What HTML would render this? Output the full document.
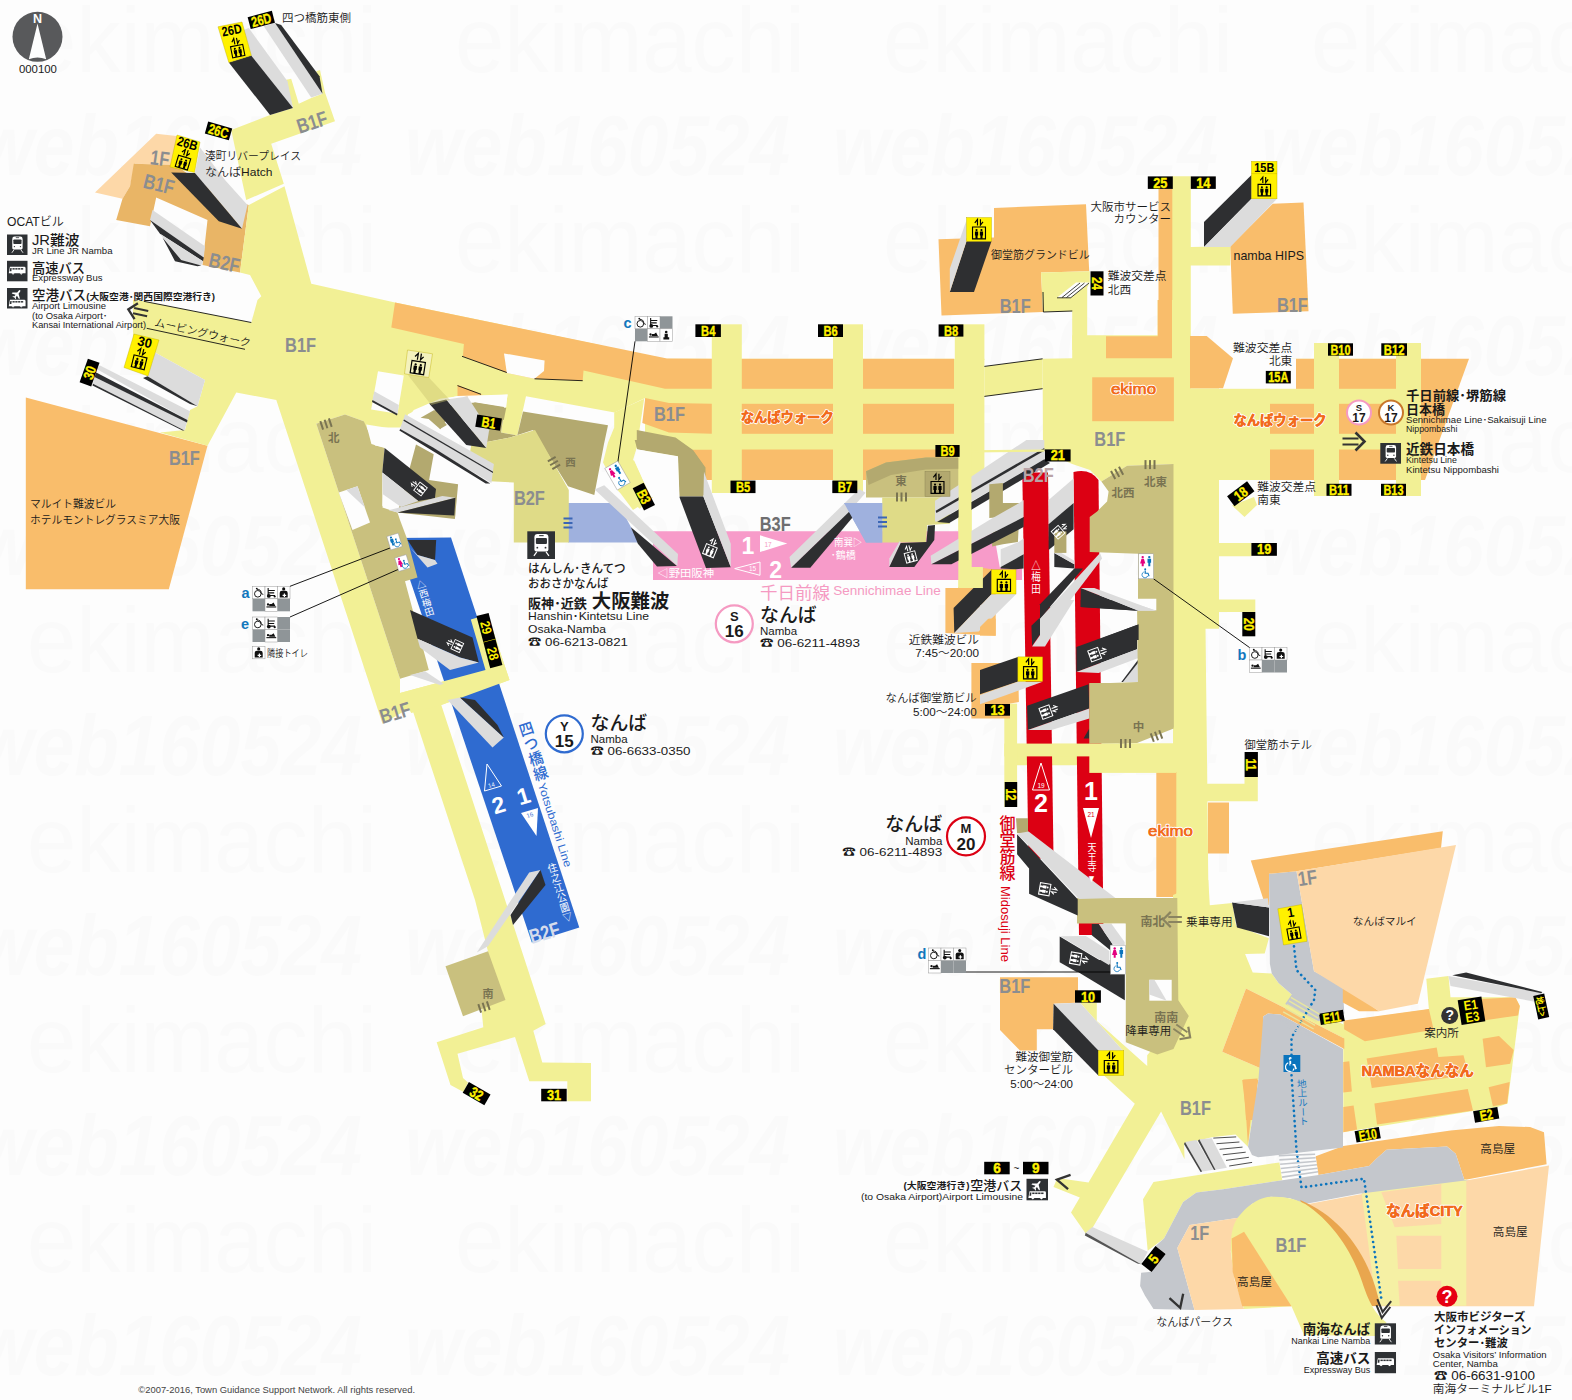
<!DOCTYPE html>
<html lang="ja"><head><meta charset="utf-8"><title>なんば駅 構内図</title>
<style>
html,body{margin:0;padding:0;background:#fdfdfd;}
body{width:1572px;height:1400px;overflow:hidden;font-family:"Liberation Sans","Noto Sans CJK JP",sans-serif;}
svg{display:block}
text{font-family:"Liberation Sans","Noto Sans CJK JP",sans-serif;}
</style></head><body>
<svg width="1572" height="1400" viewBox="0 0 1572 1400">
<rect width="1572" height="1400" fill="#fdfdfd"/>
<text x="1689" y="1375" font-size="86" fill="#fafafa" font-weight="700" font-style="italic" textLength="385" lengthAdjust="spacingAndGlyphs">web160524</text>
<text x="1261" y="1375" font-size="86" fill="#fafafa" font-weight="700" font-style="italic" textLength="385" lengthAdjust="spacingAndGlyphs">web160524</text>
<text x="833" y="1375" font-size="86" fill="#fafafa" font-weight="700" font-style="italic" textLength="385" lengthAdjust="spacingAndGlyphs">web160524</text>
<text x="405" y="1375" font-size="86" fill="#fafafa" font-weight="700" font-style="italic" textLength="385" lengthAdjust="spacingAndGlyphs">web160524</text>
<text x="-23" y="1375" font-size="86" fill="#fafafa" font-weight="700" font-style="italic" textLength="385" lengthAdjust="spacingAndGlyphs">web160524</text>
<text x="1739" y="1272" font-size="92" fill="#fafafa" font-weight="300"  textLength="350" lengthAdjust="spacingAndGlyphs">ekimachi</text>
<text x="1311" y="1272" font-size="92" fill="#fafafa" font-weight="300"  textLength="350" lengthAdjust="spacingAndGlyphs">ekimachi</text>
<text x="883" y="1272" font-size="92" fill="#fafafa" font-weight="300"  textLength="350" lengthAdjust="spacingAndGlyphs">ekimachi</text>
<text x="455" y="1272" font-size="92" fill="#fafafa" font-weight="300"  textLength="350" lengthAdjust="spacingAndGlyphs">ekimachi</text>
<text x="27" y="1272" font-size="92" fill="#fafafa" font-weight="300"  textLength="350" lengthAdjust="spacingAndGlyphs">ekimachi</text>
<text x="1689" y="1175" font-size="86" fill="#fafafa" font-weight="700" font-style="italic" textLength="385" lengthAdjust="spacingAndGlyphs">web160524</text>
<text x="1261" y="1175" font-size="86" fill="#fafafa" font-weight="700" font-style="italic" textLength="385" lengthAdjust="spacingAndGlyphs">web160524</text>
<text x="833" y="1175" font-size="86" fill="#fafafa" font-weight="700" font-style="italic" textLength="385" lengthAdjust="spacingAndGlyphs">web160524</text>
<text x="405" y="1175" font-size="86" fill="#fafafa" font-weight="700" font-style="italic" textLength="385" lengthAdjust="spacingAndGlyphs">web160524</text>
<text x="-23" y="1175" font-size="86" fill="#fafafa" font-weight="700" font-style="italic" textLength="385" lengthAdjust="spacingAndGlyphs">web160524</text>
<text x="1739" y="1072" font-size="92" fill="#fafafa" font-weight="300"  textLength="350" lengthAdjust="spacingAndGlyphs">ekimachi</text>
<text x="1311" y="1072" font-size="92" fill="#fafafa" font-weight="300"  textLength="350" lengthAdjust="spacingAndGlyphs">ekimachi</text>
<text x="883" y="1072" font-size="92" fill="#fafafa" font-weight="300"  textLength="350" lengthAdjust="spacingAndGlyphs">ekimachi</text>
<text x="455" y="1072" font-size="92" fill="#fafafa" font-weight="300"  textLength="350" lengthAdjust="spacingAndGlyphs">ekimachi</text>
<text x="27" y="1072" font-size="92" fill="#fafafa" font-weight="300"  textLength="350" lengthAdjust="spacingAndGlyphs">ekimachi</text>
<text x="1689" y="975" font-size="86" fill="#fafafa" font-weight="700" font-style="italic" textLength="385" lengthAdjust="spacingAndGlyphs">web160524</text>
<text x="1261" y="975" font-size="86" fill="#fafafa" font-weight="700" font-style="italic" textLength="385" lengthAdjust="spacingAndGlyphs">web160524</text>
<text x="833" y="975" font-size="86" fill="#fafafa" font-weight="700" font-style="italic" textLength="385" lengthAdjust="spacingAndGlyphs">web160524</text>
<text x="405" y="975" font-size="86" fill="#fafafa" font-weight="700" font-style="italic" textLength="385" lengthAdjust="spacingAndGlyphs">web160524</text>
<text x="-23" y="975" font-size="86" fill="#fafafa" font-weight="700" font-style="italic" textLength="385" lengthAdjust="spacingAndGlyphs">web160524</text>
<text x="1739" y="872" font-size="92" fill="#fafafa" font-weight="300"  textLength="350" lengthAdjust="spacingAndGlyphs">ekimachi</text>
<text x="1311" y="872" font-size="92" fill="#fafafa" font-weight="300"  textLength="350" lengthAdjust="spacingAndGlyphs">ekimachi</text>
<text x="883" y="872" font-size="92" fill="#fafafa" font-weight="300"  textLength="350" lengthAdjust="spacingAndGlyphs">ekimachi</text>
<text x="455" y="872" font-size="92" fill="#fafafa" font-weight="300"  textLength="350" lengthAdjust="spacingAndGlyphs">ekimachi</text>
<text x="27" y="872" font-size="92" fill="#fafafa" font-weight="300"  textLength="350" lengthAdjust="spacingAndGlyphs">ekimachi</text>
<text x="1689" y="775" font-size="86" fill="#fafafa" font-weight="700" font-style="italic" textLength="385" lengthAdjust="spacingAndGlyphs">web160524</text>
<text x="1261" y="775" font-size="86" fill="#fafafa" font-weight="700" font-style="italic" textLength="385" lengthAdjust="spacingAndGlyphs">web160524</text>
<text x="833" y="775" font-size="86" fill="#fafafa" font-weight="700" font-style="italic" textLength="385" lengthAdjust="spacingAndGlyphs">web160524</text>
<text x="405" y="775" font-size="86" fill="#fafafa" font-weight="700" font-style="italic" textLength="385" lengthAdjust="spacingAndGlyphs">web160524</text>
<text x="-23" y="775" font-size="86" fill="#fafafa" font-weight="700" font-style="italic" textLength="385" lengthAdjust="spacingAndGlyphs">web160524</text>
<text x="1739" y="672" font-size="92" fill="#fafafa" font-weight="300"  textLength="350" lengthAdjust="spacingAndGlyphs">ekimachi</text>
<text x="1311" y="672" font-size="92" fill="#fafafa" font-weight="300"  textLength="350" lengthAdjust="spacingAndGlyphs">ekimachi</text>
<text x="883" y="672" font-size="92" fill="#fafafa" font-weight="300"  textLength="350" lengthAdjust="spacingAndGlyphs">ekimachi</text>
<text x="455" y="672" font-size="92" fill="#fafafa" font-weight="300"  textLength="350" lengthAdjust="spacingAndGlyphs">ekimachi</text>
<text x="27" y="672" font-size="92" fill="#fafafa" font-weight="300"  textLength="350" lengthAdjust="spacingAndGlyphs">ekimachi</text>
<text x="1689" y="575" font-size="86" fill="#fafafa" font-weight="700" font-style="italic" textLength="385" lengthAdjust="spacingAndGlyphs">web160524</text>
<text x="1261" y="575" font-size="86" fill="#fafafa" font-weight="700" font-style="italic" textLength="385" lengthAdjust="spacingAndGlyphs">web160524</text>
<text x="833" y="575" font-size="86" fill="#fafafa" font-weight="700" font-style="italic" textLength="385" lengthAdjust="spacingAndGlyphs">web160524</text>
<text x="405" y="575" font-size="86" fill="#fafafa" font-weight="700" font-style="italic" textLength="385" lengthAdjust="spacingAndGlyphs">web160524</text>
<text x="-23" y="575" font-size="86" fill="#fafafa" font-weight="700" font-style="italic" textLength="385" lengthAdjust="spacingAndGlyphs">web160524</text>
<text x="1739" y="472" font-size="92" fill="#fafafa" font-weight="300"  textLength="350" lengthAdjust="spacingAndGlyphs">ekimachi</text>
<text x="1311" y="472" font-size="92" fill="#fafafa" font-weight="300"  textLength="350" lengthAdjust="spacingAndGlyphs">ekimachi</text>
<text x="883" y="472" font-size="92" fill="#fafafa" font-weight="300"  textLength="350" lengthAdjust="spacingAndGlyphs">ekimachi</text>
<text x="455" y="472" font-size="92" fill="#fafafa" font-weight="300"  textLength="350" lengthAdjust="spacingAndGlyphs">ekimachi</text>
<text x="27" y="472" font-size="92" fill="#fafafa" font-weight="300"  textLength="350" lengthAdjust="spacingAndGlyphs">ekimachi</text>
<text x="1689" y="375" font-size="86" fill="#fafafa" font-weight="700" font-style="italic" textLength="385" lengthAdjust="spacingAndGlyphs">web160524</text>
<text x="1261" y="375" font-size="86" fill="#fafafa" font-weight="700" font-style="italic" textLength="385" lengthAdjust="spacingAndGlyphs">web160524</text>
<text x="833" y="375" font-size="86" fill="#fafafa" font-weight="700" font-style="italic" textLength="385" lengthAdjust="spacingAndGlyphs">web160524</text>
<text x="405" y="375" font-size="86" fill="#fafafa" font-weight="700" font-style="italic" textLength="385" lengthAdjust="spacingAndGlyphs">web160524</text>
<text x="-23" y="375" font-size="86" fill="#fafafa" font-weight="700" font-style="italic" textLength="385" lengthAdjust="spacingAndGlyphs">web160524</text>
<text x="1739" y="272" font-size="92" fill="#fafafa" font-weight="300"  textLength="350" lengthAdjust="spacingAndGlyphs">ekimachi</text>
<text x="1311" y="272" font-size="92" fill="#fafafa" font-weight="300"  textLength="350" lengthAdjust="spacingAndGlyphs">ekimachi</text>
<text x="883" y="272" font-size="92" fill="#fafafa" font-weight="300"  textLength="350" lengthAdjust="spacingAndGlyphs">ekimachi</text>
<text x="455" y="272" font-size="92" fill="#fafafa" font-weight="300"  textLength="350" lengthAdjust="spacingAndGlyphs">ekimachi</text>
<text x="27" y="272" font-size="92" fill="#fafafa" font-weight="300"  textLength="350" lengthAdjust="spacingAndGlyphs">ekimachi</text>
<text x="1689" y="175" font-size="86" fill="#fafafa" font-weight="700" font-style="italic" textLength="385" lengthAdjust="spacingAndGlyphs">web160524</text>
<text x="1261" y="175" font-size="86" fill="#fafafa" font-weight="700" font-style="italic" textLength="385" lengthAdjust="spacingAndGlyphs">web160524</text>
<text x="833" y="175" font-size="86" fill="#fafafa" font-weight="700" font-style="italic" textLength="385" lengthAdjust="spacingAndGlyphs">web160524</text>
<text x="405" y="175" font-size="86" fill="#fafafa" font-weight="700" font-style="italic" textLength="385" lengthAdjust="spacingAndGlyphs">web160524</text>
<text x="-23" y="175" font-size="86" fill="#fafafa" font-weight="700" font-style="italic" textLength="385" lengthAdjust="spacingAndGlyphs">web160524</text>
<text x="1739" y="72" font-size="92" fill="#fafafa" font-weight="300"  textLength="350" lengthAdjust="spacingAndGlyphs">ekimachi</text>
<text x="1311" y="72" font-size="92" fill="#fafafa" font-weight="300"  textLength="350" lengthAdjust="spacingAndGlyphs">ekimachi</text>
<text x="883" y="72" font-size="92" fill="#fafafa" font-weight="300"  textLength="350" lengthAdjust="spacingAndGlyphs">ekimachi</text>
<text x="455" y="72" font-size="92" fill="#fafafa" font-weight="300"  textLength="350" lengthAdjust="spacingAndGlyphs">ekimachi</text>
<text x="27" y="72" font-size="92" fill="#fafafa" font-weight="300"  textLength="350" lengthAdjust="spacingAndGlyphs">ekimachi</text>
<polygon fill="#fdd8a8" points="95.0,192.5 156.2,133.8 178.8,136.2 175.0,165.0 135.0,163.8 130.0,186.2 122.5,198.8" />
<polygon fill="#e9b566" points="133.8,163.8 175.0,165.0 222.5,197.5 248.8,205.0 240.0,272.5 202.5,265.0 207.5,220.0 156.2,197.5 150.0,226.2 116.2,220.0 122.5,198.8 130.0,186.2" />
<polygon fill="#f9bd6b" points="25.8,397.5 207.5,445.8 168.8,589.2 25.8,589.2" />
<polygon fill="#f9bd6b" points="938.5,239.2 994.0,237.5 994.0,208.0 1086.0,204.2 1089.2,271.2 1041.0,272.5 1043.0,312.0 941.5,315.5" />
<polygon fill="#f9bd6b" points="1230.2,246.2 1272.8,203.8 1303.5,202.5 1308.5,311.2 1232.8,313.8" />
<polygon fill="#f2f095" points="231.2,130.0 270.0,115.0 293.0,108.0 285.0,80.0 291.2,78.8 298.8,103.8 311.2,98.0 322.5,93.8 316.2,71.2 320.0,70.0 325.0,92.5 335.0,121.2 271.2,143.8 283.8,183.8 246.2,200.0" />
<polygon fill="#f2f095" points="248.8,205 284.5,186.3 311.3,283.8 395,302.5 600,345 670,372 711.8,388.8 711.8,403.8 669,403 645.2,397.9 614.6,412.6 526,396.3 517.3,435.5 501,432.6 507.7,394.5 471.5,397.3 457.5,396.3 440,398.8 413.8,410 400,427.5 365,427.5 363.8,421.3 345,414.5 316.3,423.8 400,678.8 400,693 485.5,670 470.8,619.5 487.5,614.5 509.5,680 441.3,705 545.7,1024 533.3,1030.7 542.3,1062.5 591,1063 591,1101.3 567.3,1101.3 567.3,1081.3 529.3,1081.3 515,1037 457.5,1053.8 463,1078 468,1082.5 463.5,1092 450.5,1085 436.7,1042.3 483.3,1027.3 481.8,1012.5 488,951.5 475,900 411.5,707 382.5,723.8 276.3,400 236.3,392.5 207.5,445.8 160,432.5 185,430 190,410 197.5,406.3 205,380 155,352.5 133,350 133,300 143.8,301.3 251.3,322.5 257.5,300 261.3,296.3 250,275 240,272.5" />
<polygon fill="#f2f095" points="614.2,412.5 644.2,398.8 636.8,447.5 633.0,460.0 653.0,497.5 633.0,510.0 618.0,490.0 603.0,462.5 608.0,442.5 614.2,427.5" />
<rect fill="#f2f095" x="645.0" y="358.8" width="339.4" height="121.2" />
<rect fill="#f2f095" x="711.8" y="324.3" width="30.0" height="35.7" />
<rect fill="#f2f095" x="833.0" y="324.3" width="30.0" height="35.7" />
<rect fill="#f2f095" x="954.8" y="324.3" width="29.6" height="35.7" />
<rect fill="#f2f095" x="711.8" y="479.0" width="30.0" height="14.0" />
<rect fill="#f2f095" x="833.0" y="479.0" width="30.0" height="14.0" />
<rect fill="#f2f095" x="958.5" y="455.0" width="13.0" height="145.0" />
<polygon fill="#f2f095" points="984.4,366.4 1042.6,358.8 1042.6,388.7 984.4,396.4" />
<polygon fill="#f2f095" points="1041.0,272.5 1089.8,271.2 1089.8,282.5 1087.2,287.5 1087.2,350.0 1072.2,350.0 1072.2,311.2 1043.0,312.0" />
<polygon fill="#f2f095" points="1042.6,358.8 1072.2,358.2 1072.2,335.3 1157.7,335.3 1157.7,300 1172,300 1172,176.3 1190.8,176.3 1190.8,247 1230.3,246.3 1230.3,265.5 1190.8,265.5 1190.8,388.3 1219,388.3 1219,543 1251.5,543 1251.5,556.3 1219,556.3 1219,599.5 1255.3,599.5 1255.3,612 1219,612 1219,628.8 1205.5,628.8 1207.3,783.7 1244.5,783.7 1244.5,777 1257.8,777 1257.8,801.3 1207.5,801.3 1208.5,905 1173,905 1173,765.3 1017,765.3 1017,743.7 1173,743.7 1173,464 1127.1,465.7 1101.4,481.4 1090,470 1072.2,464.1 1043,450.8" />
<polygon fill="#f9bd6b" points="395,302.5 667,358.5 711.8,358.8 711.8,388.8 665,388.8 583.5,370.6 582.7,380.7 534.5,378.8 506.8,373 462.9,356.3 463.9,343.9 391.3,327.5" />
<polygon fill="#fdfdfd" points="504,353.4 544.6,360.6 544,371.1 534.5,378.8 506.8,373" />
<polygon fill="#f9bd6b" points="457.5,385.0 482.5,394.5 472.5,397.0 457.5,397.0" />
<rect fill="#f9bd6b" x="741.8" y="358.8" width="91.2" height="30.0" />
<rect fill="#f9bd6b" x="741.8" y="403.8" width="91.2" height="30.0" />
<rect fill="#f9bd6b" x="741.8" y="449.5" width="91.2" height="30.5" />
<rect fill="#f9bd6b" x="863.0" y="358.8" width="91.0" height="30.0" />
<rect fill="#f9bd6b" x="863.0" y="403.8" width="91.0" height="30.0" />
<rect fill="#f9bd6b" x="863.0" y="449.5" width="91.0" height="30.5" />
<polygon fill="#f9bd6b" points="645.2,397.9 669,403 711.8,403.8 711.8,433.8 669,432.6 642.3,423" />
<polygon fill="#f9bd6b" points="692,449.8 711.8,449.8 711.8,480 705,480" />
<rect fill="#f9bd6b" x="1092.2" y="377.3" width="81.7" height="43.9" />
<polygon fill="#f9bd6b" points="1157.7,300 1172,300 1172,358.2 1106,358.2 1106,336.3 1157.7,336.3" />
<rect fill="#f9bd6b" x="1158.5" y="188.8" width="13.8" height="111.2" />
<polygon fill="#f9bd6b" points="1190,335.9 1206.7,335.9 1233,358.3 1223,388.3 1190,388.3" />
<rect fill="#f2f095" x="1265.0" y="358.8" width="156.0" height="121.2" />
<rect fill="#f2f095" x="1314.0" y="343.0" width="25.0" height="153.0" />
<rect fill="#f2f095" x="1396.0" y="343.0" width="25.0" height="153.0" />
<rect fill="#f9bd6b" x="1296.0" y="358.8" width="18.0" height="30.0" />
<rect fill="#f9bd6b" x="1339.0" y="358.8" width="57.0" height="30.0" />
<rect fill="#f9bd6b" x="1268.5" y="403.8" width="45.5" height="30.0" />
<rect fill="#f9bd6b" x="1268.5" y="449.5" width="45.5" height="30.5" />
<rect fill="#f9bd6b" x="1339.0" y="403.8" width="57.0" height="30.0" />
<rect fill="#f9bd6b" x="1339.0" y="449.5" width="57.0" height="30.5" />
<polygon fill="#f9bd6b" points="1421,358.8 1469,358.8 1425,480 1421,480" />
<rect fill="#fdfdfd" x="1264.0" y="358.8" width="32.0" height="30.0" />
<polygon fill="#f2f095" points="1232.0,505.5 1254.0,497.0 1257.0,505.0 1244.5,517.0" />
<rect fill="#f2f095" x="1219.0" y="388.8" width="51.0" height="91.2" />
<rect fill="#f9bd6b" x="1156.3" y="772.0" width="20.0" height="125.0" />
<rect fill="#f9bd6b" x="1208.0" y="802.5" width="21.0" height="51.0" />
<polygon fill="#f2f095" points="1173,895 1208.3,880 1209.8,905.2 1232.3,902.9 1236.1,925.8 1268.9,938.2 1264.7,953.5 1245.1,954 1252.7,972.6 1271.8,973.5 1278.5,983 1291.8,994.5 1320.5,1011.7 1344.3,1025 1344.3,1038.4 1246,988.4 1222.2,1051.8 1262.3,1068.9 1258.4,1080 1247.9,1146.8 1235.5,1134.4 1211.7,1137.3 1184,1143.9 1184.6,1159.2 1161.1,1111.5 1092.4,1227.9 1085.7,1233.6 1071,1212.5 1079.8,1197.5 1053.5,1187 1057.3,1178 1088.5,1182.5 1134.8,1103.8 1104.5,1076 1098.4,1075.5 1098.4,1050.6 1122.8,1050.6 1080.1,1002.7 1096.8,1002.7 1096.8,1021.1 1147.2,1065.9 1147.2,1055.2 1160,1040 1160,930 1173,930" />
<polygon fill="#f2f095" points="1153.5,1182.1 1279.4,1162.4 1282.3,1180.2 1223.1,1189.2 1196.4,1192.6 1183.1,1202.1 1164.0,1238.4 1147.7,1250.8 1143.0,1199.3" />
<polygon fill="#f2f095" points="1343.3,1021.4 1428.9,1009.3 1426.3,978.7 1448.5,976.1 1450.5,997.2 1515.4,997.2 1519.8,1005.9 1507.6,1103.6 1497.3,1107.1 1343.3,1132.2" />
<polygon fill="#f9bd6b" points="1344.1,1020.6 1428.9,1009.0 1433.6,1029.7 1364.9,1041.3 1344.1,1029.2" />
<polygon fill="#f9bd6b" points="1481.7,998.9 1515.4,997.2 1519.8,1005.9 1518.0,1015.4 1483.4,1020.6" />
<polygon fill="#f9bd6b" points="1366.6,1058.6 1436.7,1047.4 1438.4,1056.9 1463.5,1055.2 1468.7,1075.1 1371.8,1088.0" />
<polygon fill="#f9bd6b" points="1482.6,1038.7 1499.0,1036.1 1513.7,1050.0 1510.2,1063.8 1486.0,1067.3" />
<polygon fill="#f9bd6b" points="1374.4,1103.6 1467.8,1088.9 1473.0,1110.5 1377.0,1124.4" />
<polygon fill="#f9bd6b" points="1488.6,1087.2 1509.7,1082.0 1507.1,1103.6 1492.9,1106.2" />
<polygon fill="#f9bd6b" points="1343.3,1062.1 1349.3,1061.2 1351.9,1091.5 1343.3,1092.4" />
<polygon fill="#f9bd6b" points="1343.3,1107.1 1353.6,1105.4 1357.1,1129.6 1343.3,1132.2" />
<polygon fill="#f9bd6b" points="1315.7,1156.2 1343.3,1146.0 1450.5,1130.4 1499.0,1126.1 1530.1,1127.0 1544.0,1132.2 1546.6,1164.2 1464.4,1179.9 1455.7,1153.8 1447.1,1146.5 1386.5,1149.8 1376.1,1159.0 1369.2,1165.9 1318.5,1174.9" />
<polygon fill="#fdd8a8" points="1296.5,1206.2 1359.0,1194.5 1469.0,1180.0 1549.0,1165.5 1534.0,1306.2 1354.0,1306.2 1299.0,1225.0" />
<polygon fill="#f5f0a4" points="1361.3,1190.7 1466.3,1179.0 1466.3,1305.7 1376.3,1305.7" />
<polygon fill="#fdd8a8" points="1381.3,1192.3 1441.3,1184.0 1441.3,1224.0 1394.7,1227.3" />
<polygon fill="#fdd8a8" points="1396.3,1235.7 1441.3,1235.7 1441.3,1269.0 1398.0,1269.0" />
<polygon fill="#fdd8a8" points="1398.0,1280.7 1441.3,1280.7 1441.3,1305.7 1399.7,1305.7" />
<polygon fill="#c4c7cc" points="1469,1180 1464.4,1180 1455.7,1153.8 1447,1146.5 1386.5,1149.8 1376,1159 1369.2,1165.9 1318.5,1175 1282.3,1180.2 1223.1,1189.2 1196.4,1192.6 1183.1,1202.1 1164,1238.4 1155.4,1246 1165.9,1253.7 1151.6,1271.8 1141.1,1272.7 1140.1,1286.1 1144.9,1295.6 1153.5,1309 1194.5,1310 1177.3,1247.9 1189.7,1225 1240.3,1217.4 1251.8,1204 1270.8,1196.8 1289.9,1198.3 1305.2,1204 1359,1193.8" />
<polygon fill="#fdd8a8" points="1177.3,1247.9 1189.7,1225 1240.3,1217.4 1232.7,1234.6 1230.8,1251.8 1234.6,1280.4 1244.1,1309 1194.5,1310" />
<path fill="#e9a64e" d="M1300,1200 C1345,1218 1372,1262 1380,1306 L1360,1306 Z"/>
<path fill="#f2f095" d="M1244.1,1309 C1228,1262 1226,1228 1241.3,1213.6 C1250,1203 1262,1197 1270.8,1196.8 C1284,1196 1296,1199 1305.2,1204 C1330,1220 1350,1248 1360,1276 C1366,1292 1370,1310 1386.5,1322.5 L1376.5,1336 L1304,1335 L1291.5,1306.3 Z"/>
<polygon fill="#f9bd6b" points="1231.7,1238.4 1244.1,1231.7 1291.5,1306.3 1242.2,1306.3 1232.7,1272" />
<polygon fill="#c4c7cc" points="1269,873.8 1296.5,871.3 1314,971.3 1342.8,986.3 1344.3,1013.6 1318.5,1021.2 1285.2,1004 1291.8,994.5 1278.5,983 1271.8,973.5 1269.9,964" />
<polygon fill="#f9bd6b" points="1246,988.4 1344.3,1038.4 1344.3,1048.9 1280.4,1014.5 1268,1013.6 1263.2,1016.5 1262.3,1068.9 1222.2,1051.8" />
<polygon fill="#f9bd6b" points="1243.2,1079.4 1257.5,1078.5 1256.5,1120.1 1246.0,1120.1" />
<polygon fill="#f9bd6b" points="1242.2,1080.0 1258.4,1080.0 1251.8,1108.6 1247.9,1144.9 1245.6,1108.6" />
<polygon fill="#c4c7cc" points="1268,1013.6 1280.4,1014.5 1343,1049 1343,1147.5 1258,1157.3 1252,1155 1248,1146.8 1258.4,1080 1262.3,1030 1263.2,1016.5" />
<polygon fill="#f9bd6b" points="1250.8,860.5 1442.8,831.2 1441.0,848.0 1296.5,871.2 1269.0,873.8 1269.0,905.0 1265.2,905.0" />
<polygon fill="#f9bd6b" points="1342.8,985.0 1379.0,1011.2 1359.0,1011.2 1342.8,1002.5" />
<polygon fill="#fdd8a8" points="1296.5,871.2 1456.0,845.0 1417.8,1003.8 1379.0,1011.2 1314.0,971.2" />
<polygon fill="#f9bd6b" points="1000,977.3 1078,977.3 1078,990.5 1075,1002.7 1053.6,1003.8 1053,1029.2 1036.8,1029.2 1036.8,1050.6 1020,1050.6 1000,1030" />
<polygon fill="#2f6bd0" points="396,538 451,537.5 579.3,927.5 531.8,942.5" />
<polygon fill="#f79bc9" points="653,531.3 993.5,531.3 999.8,567.5 1022,567.5 1022,580 653,580" />
<polygon fill="#9fb1de" points="568,503 618,503 639.3,542.5 568,542.5" />
<polygon fill="#9fb1de" points="844,503 882.3,503 882.3,542.5 866,542.5" />
<polygon fill="#dc0013" points="1022.3,472.5 1048,472.5 1053.5,857 1028.5,860" />
<path fill="#dc0013" d="M1079,935 L1073.5,472 Q1090,468 1098.5,480 L1103.5,935 Z"/>
<rect fill="#f2f095" x="1004.3" y="743.6" width="171.7" height="12.8" />
<rect fill="#f2f095" x="1089.3" y="743.6" width="86.7" height="29.3" />
<rect fill="#f2f095" x="1004.3" y="703.6" width="12.8" height="103.4" />
<rect fill="#f2f095" x="958.5" y="455.0" width="13.0" height="145.0" />
<polygon fill="#c9c07e" points="316.3,423.8 345,414.5 363.8,421.3 375,445.5 385,447.5 383.8,480 382.5,507.5 397.5,512.5 400,520 407.5,540 417.5,577.5 405,581.3 428.8,670 400,678.8" />
<polygon fill="#fdfdfd" points="338.8,492.5 357.5,486.3 370,522.5 352.5,530" />
<polygon fill="#dcdcdc" points="346.3,490 357.5,486.3 365,507.5" />
<polygon fill="#c9c07e" points="445.5,966.3 488,951.3 505.5,1000 463,1016.3" />
<polygon fill="#b3a96f" points="412.5,480.0 415.0,445.0 420.0,422.5 440.0,406.2 475.0,402.5 506.2,408.0 503.8,420.0 475.0,415.0 446.2,420.0 435.0,437.5 431.2,467.5 457.5,485.0 455.0,517.5 397.5,512.5 383.8,480.0" />
<polygon fill="#b3a96f" points="474.4,403 504.9,408.2 501,432.6 517.3,435.5 523,411.6 608,425.3 604,444 594.3,495 568,486.3 533,430 510,437.5 471.3,445" />
<polygon fill="#dfdb87" points="471.3,445 510,437.5 535,430 568.8,490 568.8,542.5 513.8,542.5 513.8,482.5 465,480" />
<polygon fill="#b3a96f" points="636.8,430 675.5,437.5 693,450 705.5,467.5 705.5,495 680,496.3 678,455 636.8,447.5" />
<polygon fill="#c9c07e" points="866.0,471.2 886.0,462.5 926.0,457.5 958.5,457.5 958.5,497.5 866.0,497.5" />
<polygon fill="#b3a96f" points="866.0,471.2 886.0,462.5 926.0,457.5 958.5,457.5 958.5,468.8 926.0,469.5 891.0,475.0 868.5,485.0" />
<polygon fill="#dfdb87" points="882.2,497.5 949.8,497.5 949.8,523.8 927.2,525.0 926.0,542.5 882.2,542.5" />
<polygon fill="#c9c07e" points="1101.4,481.4 1127.1,465.7 1173.5,464 1173.5,727 1158,733.7 1123,743.7 1089.7,738.7 1089.7,683.7 1138,682 1138,658.7 1156.3,658.7 1156.3,648.7 1138,648.7 1138,610.3 1156.3,610.3 1156.3,598.7 1138,598.7 1138,553.7 1089.7,552 1089.7,517 1097.1,511.4 1107.1,501.4 1108.6,491.4" />
<polygon fill="#c9c07e" points="1077,898.1 1177.3,898.1 1178.3,1000.2 1188.8,1015.9 1173.5,1048.9 1157.3,1054.6 1125.8,1042.2 1125.8,923.4 1077,923.4" />
<polygon fill="#f2f095" points="400.0,693.0 485.5,670.0 470.8,619.5 487.5,614.5 509.5,680.0 441.2,705.0 411.2,713.0" />
<polygon fill="#dcdcdc" points="243.8,30.0 248.8,28.0 287.5,81.2 293.0,108.0 251.2,55.5" />
<polygon fill="#2e2f31" points="228.8,62.5 251.2,55.5 293.0,108.0 270.0,115.0" />
<polygon fill="#dcdcdc" points="263.8,26.2 275.0,23.0 322.5,93.8 311.2,97.5" />
<polygon fill="#2e2f31" points="275.0,23.0 281.2,25.0 319.5,76.2 322.5,93.8" />
<polygon fill="#dcdcdc" points="200.0,147.5 225.0,180.0 247.5,205.0 242.0,228.8 195.0,173.0" />
<polygon fill="#2e2f31" points="171.2,172.5 195.0,173.0 242.0,228.8 218.8,221.2" />
<polygon fill="#dcdcdc" points="152.5,210.0 205.0,246.2 203.8,257.5 150.0,220.0" />
<polygon fill="#2e2f31" points="150.0,220.0 203.8,257.5 203.0,261.2 160.0,233.8" />
<polygon fill="#dcdcdc" points="160.0,233.8 203.0,261.2 201.2,265.5 181.2,260.0" />
<polygon fill="#2e2f31" points="162.5,237.5 181.2,260.0 201.2,265.5 197.5,266.2 175.0,261.2" />
<polygon fill="#dcdcdc" points="96.2,368.8 100.0,365.5 190.0,411.2 187.5,420.0" />
<polygon fill="#dcdcdc" points="93.0,383.8 94.5,377.0 187.0,421.8 184.5,430.5" />
<polygon fill="#2e2f31" points="94.5,377.0 96.2,372.5 187.5,420.0 187.0,422.5" />
<polygon fill="#2e2f31" points="93.0,383.8 184.5,430.5 182.5,430.5 92.5,385.5" />
<polygon fill="#dcdcdc" points="155,352.5 205,380 197.5,406.3 147.5,376.3" />
<polygon fill="#2e2f31" points="147.5,376.3 197.5,406.3 190,404 143,378" />
<polygon fill="#fdfdfd" points="378.0,371.2 403.8,375.5 397.5,413.8 371.2,409.5" />
<polygon fill="#dcdcdc" points="374.2,391.2 398.8,405.0 397.5,413.8 372.5,400.0" />
<polygon fill="#2e2f31" points="372.5,400.0 397.5,413.8 397.0,415.5 372.0,402.0" />
<polygon fill="#fdfdfd" points="366.3,424.6 402.3,430.3 408.0,414.3 428.6,404.0 457.1,396.0 507.4,394.6 506.3,406.9 474.3,402.3 467.4,396.6 446.9,399.4 429.1,403.4 420.6,417.7 434.3,409.7 440.0,429.1 491.4,482.9 463.4,481.7 458.3,484.0 454.9,518.9 397.7,512.6 382.3,505.7 382.3,472.6 384.6,448.0 371.4,444.0" />
<polygon fill="#b3a96f" points="420.6,417.7 434.3,409.9 446.9,425.1 440.0,429.1 428.6,418.9" />
<polygon fill="#b3a96f" points="416.0,444.6 433.7,454.3 429.1,480.0 458.1,484.2 454.9,518.9 397.7,512.6 405.7,482.9" />
<polygon fill="#b3a96f" points="474.3,402.3 504.0,406.9 502.9,418.3 477.7,414.3" />
<polygon fill="#dcdcdc" points="405.1,414.3 493.9,464.0 491.4,482.9 400.0,429.1" />
<polygon fill="#2e2f31" points="404.0,419.4 493.1,471.7 492.9,473.0 403.4,420.8" />
<polygon fill="#2e2f31" points="400.2,428.9 433.1,447.4 490.3,483.4 485.7,483.4 399.4,430.5" />
<polygon fill="#2e2f31" points="429.1,403.4 446.3,399.4 486.3,448.0 466.3,445.1" />
<polygon fill="#dcdcdc" points="446.3,399.4 467.4,396.6 489.1,430.3 486.3,448.0" />
<polygon fill="#2e2f31" points="384.6,448.0 436.0,489.1 434.9,498.3 418.3,501.1 382.3,472.6" />
<polygon fill="#dcdcdc" points="382.3,472.6 418.3,501.1 401.1,506.9 382.9,494.3" />
<polygon fill="#dcdcdc" points="388.6,510.3 442.3,496.0 455.4,497.7 397.7,512.6" />
<polygon fill="#2e2f31" points="397.7,512.6 455.4,497.7 454.3,515.4 405.7,513.1" />
<polygon fill="#2e2f31" points="407.5,540.0 436.2,540.0 435.0,560.0 417.5,555.0" />
<polygon fill="#dcdcdc" points="417.5,555.0 435.0,560.0 437.5,563.8 427.5,567.5 410.0,547.5" />
<polygon fill="#2e2f31" points="410.0,610.0 472.5,637.5 478.8,662.5 460.0,657.5 417.5,638.8" />
<polygon fill="#dcdcdc" points="417.5,638.8 460.0,657.5 478.8,662.5 450.0,670.0 420.0,647.5" />
<polygon fill="#dcdcdc" points="410.0,675.0 425.0,671.2 443.8,683.8 440.0,685.0" />
<polygon fill="#dcdcdc" points="447.5,700.0 460.0,697.5 503.8,737.5 492.5,747.5" />
<polygon fill="#2e2f31" points="460.0,697.5 475.0,700.0 497.5,725.0 503.8,737.5" />
<polygon fill="#dcdcdc" points="476.8,952.5 488.0,946.2 540.5,870.0 529.2,872.5" />
<polygon fill="#2e2f31" points="540.5,870.0 545.5,885.0 513.0,925.0 510.5,915.0" />
<polygon fill="#dcdcdc" points="1026.4,440.0 1044.3,440.0 1044.3,459.3 937.1,521.4 935.0,521.4 935.0,500.7" />
<polygon fill="#2e2f31" points="1044.3,447.9 1044.3,450.7 936.4,513.1 935.7,510.7" />
<polygon fill="#2e2f31" points="1044.3,459.3 1050.0,462.9 949.3,522.9 937.1,522.1" />
<polygon fill="#b3a96f" points="989.3,484.3 1002.9,482.9 1002.9,502.9 1019.3,502.9 1019.3,515.7 989.3,517.9" />
<polygon fill="#b3a96f" points="992.1,531.4 1018.6,528.6 1017.9,542.1 1002.9,544.3 992.1,546.4" />
<polygon fill="#dcdcdc" points="1019.3,502.9 1023.6,500.0 1023.6,517.1 931.4,564.3 930.7,555.7 989.3,520.0" />
<polygon fill="#2e2f31" points="1023.6,517.1 1023.6,527.1 951.4,564.3 931.4,564.3" />
<polygon fill="#dcdcdc" points="1018.6,542.1 1023.6,538.6 1023.6,554.3 1000.7,567.1 1000.7,549.3" />
<polygon fill="#2e2f31" points="1023.6,554.3 1023.6,568.6 1015.7,569.3 1000.7,568.6 1000.7,567.1" />
<polygon fill="#dcdcdc" points="889.3,558.6 900.0,540.7 900.7,542.9 889.3,567.1" />
<polygon fill="#2e2f31" points="889.3,567.1 900.7,542.9 926.4,542.1 927.9,525.7 935.0,525.0 934.3,540.0 914.3,567.1" />
<polygon fill="#f9bd6b" points="945.4,587.9 958.6,587.9 958.6,587.1 982.9,587.1 982.9,567.9 992.1,569.3 995.7,593.6 995.7,635.7 945.4,632.9" />
<polygon fill="#2e2f31" points="953.6,607.9 991.4,570.0 991.4,594.3 954.3,632.9" />
<polygon fill="#dcdcdc" points="991.4,594.3 1016.0,594.3 978.6,631.4 954.3,632.9" />
<polygon fill="#f2f095" points="958.6,440.0 971.4,440.0 971.4,567.1 982.9,567.1 982.9,587.9 958.6,587.9" />
<polygon fill="#f9bd6b" points="980.0,618.6 995.7,618.6 995.7,635.7 980.0,635.7" />
<polygon fill="#f9bd6b" points="980.0,662.9 1017.9,662.9 1018.9,702.1 1010.0,703.6 1010.0,718.6 971.4,718.6 971.4,662.9" />
<polygon fill="#dcdcdc" points="980.0,605.7 988.6,600.0 1007.1,600.0 980.0,627.1" />
<polygon fill="#2e2f31" points="980.0,670.0 1017.9,657.1 1017.9,681.4 980.0,694.3" />
<polygon fill="#dcdcdc" points="980.0,695.0 1017.9,681.7 1042.6,681.7 1006.4,695.0 980.0,704.3" />
<polygon fill="#2e2f31" points="1031.4,625.7 1057.9,600.0 1064.3,600.0 1032.1,645.7" />
<polygon fill="#dcdcdc" points="1032.1,646.4 1064.3,600.0 1074.3,600.0 1045.0,646.4" />
<polygon fill="#2e2f31" points="1076.4,647.1 1137.1,625.0 1137.1,649.3 1076.4,672.1" />
<polygon fill="#dcdcdc" points="1076.4,672.1 1137.1,649.3 1157.1,650.7 1157.1,657.1 1137.1,658.6 1098.6,672.9" />
<polygon fill="#2e2f31" points="1027.1,705.7 1088.6,684.3 1089.3,708.6 1027.9,730.0" />
<polygon fill="#dcdcdc" points="1027.9,730.0 1089.3,708.6 1089.3,718.6 1051.4,730.0" />
<polygon fill="#2e2f31" points="1080.7,600.0 1112.9,600.0 1137.1,610.7 1080.7,607.1" />
<polygon fill="#dcdcdc" points="1112.9,600.0 1122.9,600.0 1157.1,610.7 1137.1,610.7" />
<polygon fill="#dcdcdc" points="1137.9,661.4 1137.9,682.1 1121.4,682.1" />
<polygon fill="#2e2f31" points="1121.4,682.1 1137.9,660.0 1137.9,662.9 1122.9,682.1" />
<polygon fill="#2e2f31" points="1083.6,738.6 1089.3,728.6 1089.3,738.6" />
<polygon fill="#c9c07e" points="1137.1,610.7 1157.1,610.7 1157.1,600.0 1173.7,600.0 1173.7,728.6 1137.1,742.9 1089.3,743.6 1089.3,682.9 1137.9,682.9" />
<polygon fill="#dcdcdc" points="1048.6,500.0 1073.6,478.6 1073.6,502.9 1048.6,524.3" />
<polygon fill="#2e2f31" points="1048.6,524.3 1073.6,502.9 1073.6,529.3 1048.6,550.0" />
<polygon fill="#b3a96f" points="1054.3,531.4 1066.4,531.4 1066.4,552.9 1054.3,552.9" />
<polygon fill="#2e2f31" points="1054.3,552.9 1074.3,564.3 1074.3,568.6 1054.3,567.1" />
<polygon fill="#dcdcdc" points="1054.3,552.9 1061.4,552.9 1074.3,560.7 1074.3,564.3" />
<polygon fill="#dcdcdc" points="1040.0,618.6 1100.0,552.9 1102.1,558.6 1040.0,640.0" />
<polygon fill="#2e2f31" points="1040.0,604.3 1074.3,568.6 1082.9,568.6 1040.0,618.6" />
<polygon fill="#2e2f31" points="1080.7,587.9 1138.6,610.7 1080.7,607.1" />
<polygon fill="#dcdcdc" points="1080.7,587.9 1094.3,587.9 1155.7,610.7 1138.6,610.7" />
<polygon fill="#2e2f31" points="1097.1,640.0 1138.6,624.3 1138.6,640.0" />
<polygon fill="#dcdcdc" points="1053.6,1003.8 1080.1,1002.7 1122.8,1050.6 1098.4,1050.6" />
<polygon fill="#2e2f31" points="1053.6,1003.8 1098.4,1050.6 1098.4,1075.5 1053.1,1029.2" />
<polygon fill="#2e2f31" points="1059.7,960.0 1109.6,960.0 1124.8,973.2 1124.8,1000.2 1080.1,973.2" />
<polygon fill="#dcdcdc" points="1101.4,960.0 1111.6,960.0 1124.8,971.2 1124.8,973.7 1109.6,964.1" />
<polygon fill="#fdfdfd" points="1149.3,979.8 1171.7,979.8 1171.7,1000.7 1149.3,1000.7" />
<polygon fill="#dcdcdc" points="1149.3,979.8 1154.4,979.8 1166.6,1000.7 1149.3,994.6" />
<polygon fill="#2e2f31" points="1232.0,902.5 1237.0,927.5 1269.0,936.2 1269.0,907.5" />
<polygon fill="#dcdcdc" points="1232.0,902.5 1267.8,898.2 1269.0,907.5" />
<polygon fill="#dcdcdc" points="1085.7,1232.7 1092.4,1226.9 1147.7,1251.8 1141.1,1264.2" />
<polygon fill="#555" points="1085.7,1232.7 1141.1,1264.2 1137.3,1263.6 1084.8,1235.5" />
<polygon fill="#dcdcdc" points="1185.0,1142.0 1196.4,1140.1 1213.6,1169.7 1202.1,1171.6" />
<polygon fill="#dcdcdc" points="1199.3,1139.2 1211.7,1138.2 1226.9,1167.8 1215.5,1169.7" />
<polygon fill="#444" points="1185.0,1142.0 1202.1,1171.6 1200.6,1172.0 1184.0,1143.9" />
<polygon fill="#444" points="1199.3,1139.2 1215.5,1169.7 1214.0,1170.1 1197.9,1140.7" />
<polygon fill="#dcdcdc" points="1448.5,976.1 1541.4,992.9 1538.8,1002.4 1450.5,986.0" />
<polygon fill="#2e2f31" points="1452.3,975.2 1466.1,972.5 1542.3,992.0 1541.4,993.2" />
<polygon fill="#2e2f31" points="966.5,241.2 991.5,241.2 974.0,292.0 949.8,292.0" />
<polygon fill="#dcdcdc" points="966.5,220.0 966.5,241.2 949.8,292.0 949.8,268.8" />
<polygon fill="#2e2f31" points="1204.0,222.0 1251.5,175.0 1251.5,198.8 1204.0,247.0" />
<polygon fill="#dcdcdc" points="1251.5,198.8 1277.0,198.8 1230.2,247.0 1204.0,247.0" />
<polygon fill="#fdfdfd" points="1057.2,297.5 1076.0,282.5 1089.8,282.5 1071.0,297.5" />
<polygon fill="#dcdcdc" points="594.6,489.6 604.2,485.2 678.0,553.9 677.3,566.0" />
<polygon fill="#2e2f31" points="630.9,527.2 676.9,566.0 657.0,566.6 637.9,543.7" />
<polygon fill="#b3a96f" points="634.7,440.0 674.1,440.0 694.5,452.7 703.4,465.4 705.3,478.2 703.4,496.6 679.2,496.6 678.0,456.5 637.3,449.5" />
<polygon fill="#2e2f31" points="679.2,496.6 703.4,496.6 730.8,567.2 706.0,567.9" />
<polygon fill="#dcdcdc" points="704.0,471.8 707.2,480.7 730.8,543.7 730.8,567.2 703.4,496.6" />
<polygon fill="#dcdcdc" points="789.5,557.0 859.2,488.9 865.6,492.7 849.1,511.8 791.2,567.8" />
<polygon fill="#2e2f31" points="791.2,567.8 810.3,567.8 852.9,516.9 849.1,511.8" />
<polygon fill="#9fb1de" points="844,503 882.3,503 882.3,542.5 866,542.5" />
<polygon fill="#c9c46f" points="407.5,374.5 428.8,377.5 450.0,400.0 431.2,405.0" fill-opacity="0.45"/>
<polygon fill="#fdfdfd" points="636.6,449.2 678.0,456.3 679.5,497.3 651.2,497.3 643.6,482.0 634.1,460.4" />
<polygon fill="#f2f095" points="618.2,459.1 634.1,460.4 643.6,482.0 651.2,497.3 639.8,508.7 618.2,490.9" />
<polygon fill="#b3a96f" points="1016.0,818.3 1028.0,818.3 1028.0,833.1 1017.1,833.1" />
<polygon fill="#2e2f31" points="1017.1,834.3 1077.7,899.2 1077.7,915.4 1029.1,893.7 1029.1,868.6 1017.1,854.3" />
<polygon fill="#dcdcdc" points="1017.1,833.4 1028.6,831.4 1115.4,898.1 1078.9,898.9" />
<polygon fill="#fdfdfd" points="1111.6,923.8 1124.9,923.8 1124.9,942.3" />
<polygon fill="#2e2f31" points="1091.8,924.1 1098.8,924.1 1112.8,944.5 1110.0,945.4 1110.0,949.9 1091.8,935.3" />
<polygon fill="#dcdcdc" points="1098.8,924.1 1111.6,924.1 1124.6,941.9 1124.6,945.1 1112.8,944.5" />
<polygon fill="#2e2f31" points="1059.7,936.5 1109.0,965.8 1109.0,971.8 1076.3,971.8 1059.7,962.3" />
<polygon fill="#dcdcdc" points="1060.4,936.2 1085.8,935.9 1109.3,950.9 1109.3,965.3" />
<g transform="translate(261.3 20.0) rotate(-14.5)"><rect x="-12.5" y="-6.2" width="25.0" height="12.3" fill="#000"/><text x="0" y="5.0" font-size="14.2" font-weight="700" fill="#fff100" stroke="#fff100" stroke-width="0.35" text-anchor="middle" textLength="20.0" lengthAdjust="spacingAndGlyphs">26D</text></g>
<polygon fill="#fff100" points="218,26.8 242,22 251.3,55.5 228.8,62.5" stroke="#bbaa00" stroke-width="0.4"/>
<text transform="translate(231.8 30.5) rotate(-11.3)" x="0" y="4.2" font-size="13.4" font-weight="700" text-anchor="middle" fill="#000" textLength="20.0" lengthAdjust="spacingAndGlyphs">26D</text>
<g transform="translate(237.1 48.0) rotate(-11.3) scale(0.913)" fill="#000" stroke="none"><path d="M-1.6,-4.4 V-10.8 L-4.4,-7.2 M1.5,-11 V-4.8 L4.2,-8.2" fill="none" stroke="#000" stroke-width="1.25" stroke-linejoin="miter"/><path d="M-7.4,-3.4 H7.4 V10.2 H-7.4 Z M-6.2,-2.2 V9 H6.2 V-2.2 Z" fill-rule="evenodd"/><circle cx="-2.6" cy="0.4" r="1.15"/><path d="M-4.3,1.9 H-0.9 V6 H-1.5 V9.4 H-3.7 V6 H-4.3 Z"/><circle cx="2.6" cy="0.4" r="1.15"/><path d="M0.9,1.9 H4.3 V6 H3.7 V9.4 H1.5 V6 H0.9 Z"/></g>
<g transform="translate(218.5 131.0) rotate(16.0)"><rect x="-12.5" y="-6.2" width="25.0" height="12.3" fill="#000"/><text x="0" y="5.0" font-size="14.2" font-weight="700" fill="#fff100" stroke="#fff100" stroke-width="0.35" text-anchor="middle" textLength="20.0" lengthAdjust="spacingAndGlyphs">26C</text></g>
<polygon fill="#fff100" points="177,135 200,142 194.5,172.5 170,167" stroke="#bbaa00" stroke-width="0.4"/>
<text transform="translate(187.3 143.9) rotate(16.9)" x="0" y="4.2" font-size="13.4" font-weight="700" text-anchor="middle" fill="#000" textLength="20.6" lengthAdjust="spacingAndGlyphs">26B</text>
<g transform="translate(183.9 159.6) rotate(16.9) scale(0.934)" fill="#000" stroke="none"><path d="M-1.6,-4.4 V-10.8 L-4.4,-7.2 M1.5,-11 V-4.8 L4.2,-8.2" fill="none" stroke="#000" stroke-width="1.25" stroke-linejoin="miter"/><path d="M-7.4,-3.4 H7.4 V10.2 H-7.4 Z M-6.2,-2.2 V9 H6.2 V-2.2 Z" fill-rule="evenodd"/><circle cx="-2.6" cy="0.4" r="1.15"/><path d="M-4.3,1.9 H-0.9 V6 H-1.5 V9.4 H-3.7 V6 H-4.3 Z"/><circle cx="2.6" cy="0.4" r="1.15"/><path d="M0.9,1.9 H4.3 V6 H3.7 V9.4 H1.5 V6 H0.9 Z"/></g>
<g transform="translate(89.6 372.6) rotate(-70.6)"><rect x="-12.5" y="-6.2" width="25.0" height="12.3" fill="#000"/><text x="0" y="5.0" font-size="14.2" font-weight="700" fill="#fff100" stroke="#fff100" stroke-width="0.35" text-anchor="middle" textLength="13.0" lengthAdjust="spacingAndGlyphs">30</text></g>
<polygon fill="#fff100" points="134,334 159,340 148,376 124,367.5" stroke="#bbaa00" stroke-width="0.4"/>
<text transform="translate(144.8 342.7) rotate(13.5)" x="0" y="4.2" font-size="13.4" font-weight="700" text-anchor="middle" fill="#000" textLength="14.4" lengthAdjust="spacingAndGlyphs">30</text>
<g transform="translate(139.9 359.1) rotate(13.5) scale(0.972)" fill="#000" stroke="none"><path d="M-1.6,-4.4 V-10.8 L-4.4,-7.2 M1.5,-11 V-4.8 L4.2,-8.2" fill="none" stroke="#000" stroke-width="1.25" stroke-linejoin="miter"/><path d="M-7.4,-3.4 H7.4 V10.2 H-7.4 Z M-6.2,-2.2 V9 H6.2 V-2.2 Z" fill-rule="evenodd"/><circle cx="-2.6" cy="0.4" r="1.15"/><path d="M-4.3,1.9 H-0.9 V6 H-1.5 V9.4 H-3.7 V6 H-4.3 Z"/><circle cx="2.6" cy="0.4" r="1.15"/><path d="M0.9,1.9 H4.3 V6 H3.7 V9.4 H1.5 V6 H0.9 Z"/></g>
<g transform="translate(488.6 422.7) rotate(9.3)"><rect x="-12.5" y="-6.2" width="25.0" height="12.3" fill="#000"/><text x="0" y="5.0" font-size="14.2" font-weight="700" fill="#fff100" stroke="#fff100" stroke-width="0.35" text-anchor="middle" textLength="14.0" lengthAdjust="spacingAndGlyphs">B1</text></g>
<g transform="translate(643.8 496.6) rotate(63.0)"><rect x="-12.5" y="-6.2" width="25.0" height="12.3" fill="#000"/><text x="0" y="5.0" font-size="14.2" font-weight="700" fill="#fff100" stroke="#fff100" stroke-width="0.35" text-anchor="middle" textLength="14.0" lengthAdjust="spacingAndGlyphs">B3</text></g>
<g transform="translate(708.2 330.6) rotate(0.0)"><rect x="-12.8" y="-6.3" width="25.5" height="12.7" fill="#000"/><text x="0" y="5.0" font-size="14.2" font-weight="700" fill="#fff100" stroke="#fff100" stroke-width="0.35" text-anchor="middle" textLength="14.2" lengthAdjust="spacingAndGlyphs">B4</text></g>
<g transform="translate(743.0 486.8) rotate(0.0)"><rect x="-12.5" y="-6.2" width="25.0" height="12.5" fill="#000"/><text x="0" y="5.0" font-size="14.2" font-weight="700" fill="#fff100" stroke="#fff100" stroke-width="0.35" text-anchor="middle" textLength="14.2" lengthAdjust="spacingAndGlyphs">B5</text></g>
<g transform="translate(830.5 330.6) rotate(0.0)"><rect x="-12.5" y="-6.3" width="25.0" height="12.7" fill="#000"/><text x="0" y="5.0" font-size="14.2" font-weight="700" fill="#fff100" stroke="#fff100" stroke-width="0.35" text-anchor="middle" textLength="14.2" lengthAdjust="spacingAndGlyphs">B6</text></g>
<g transform="translate(844.8 486.8) rotate(0.0)"><rect x="-12.5" y="-6.2" width="25.0" height="12.5" fill="#000"/><text x="0" y="5.0" font-size="14.2" font-weight="700" fill="#fff100" stroke="#fff100" stroke-width="0.35" text-anchor="middle" textLength="14.2" lengthAdjust="spacingAndGlyphs">B7</text></g>
<g transform="translate(951.0 330.5) rotate(0.0)"><rect x="-12.4" y="-6.1" width="24.8" height="12.2" fill="#000"/><text x="0" y="5.0" font-size="14.2" font-weight="700" fill="#fff100" stroke="#fff100" stroke-width="0.35" text-anchor="middle" textLength="14.2" lengthAdjust="spacingAndGlyphs">B8</text></g>
<g transform="translate(947.5 450.9) rotate(0.0)"><rect x="-12.1" y="-5.9" width="24.2" height="11.9" fill="#000"/><text x="0" y="5.0" font-size="14.2" font-weight="700" fill="#fff100" stroke="#fff100" stroke-width="0.35" text-anchor="middle" textLength="14.2" lengthAdjust="spacingAndGlyphs">B9</text></g>
<g transform="translate(1160.3 182.6) rotate(0.0)"><rect x="-12.5" y="-6.2" width="25.0" height="12.5" fill="#000"/><text x="0" y="5.0" font-size="14.2" font-weight="700" fill="#fff100" stroke="#fff100" stroke-width="0.35" text-anchor="middle" textLength="14.2" lengthAdjust="spacingAndGlyphs">25</text></g>
<g transform="translate(1203.3 182.6) rotate(0.0)"><rect x="-12.5" y="-6.2" width="25.0" height="12.5" fill="#000"/><text x="0" y="5.0" font-size="14.2" font-weight="700" fill="#fff100" stroke="#fff100" stroke-width="0.35" text-anchor="middle" textLength="14.2" lengthAdjust="spacingAndGlyphs">14</text></g>
<g transform="translate(1057.8 455.4) rotate(0.0)"><rect x="-12.9" y="-6.0" width="25.7" height="12.1" fill="#000"/><text x="0" y="5.0" font-size="14.2" font-weight="700" fill="#fff100" stroke="#fff100" stroke-width="0.35" text-anchor="middle" textLength="14.2" lengthAdjust="spacingAndGlyphs">21</text></g>
<g transform="translate(1278.3 377.1) rotate(0.0)"><rect x="-12.5" y="-6.2" width="25.0" height="12.5" fill="#000"/><text x="0" y="5.0" font-size="14.2" font-weight="700" fill="#fff100" stroke="#fff100" stroke-width="0.35" text-anchor="middle" textLength="20.0" lengthAdjust="spacingAndGlyphs">15A</text></g>
<g transform="translate(1340.5 349.5) rotate(0.0)"><rect x="-12.5" y="-6.2" width="25.0" height="12.4" fill="#000"/><text x="0" y="5.0" font-size="14.2" font-weight="700" fill="#fff100" stroke="#fff100" stroke-width="0.35" text-anchor="middle" textLength="20.0" lengthAdjust="spacingAndGlyphs">B10</text></g>
<g transform="translate(1394.2 349.5) rotate(0.0)"><rect x="-12.9" y="-6.2" width="25.7" height="12.4" fill="#000"/><text x="0" y="5.0" font-size="14.2" font-weight="700" fill="#fff100" stroke="#fff100" stroke-width="0.35" text-anchor="middle" textLength="20.7" lengthAdjust="spacingAndGlyphs">B12</text></g>
<g transform="translate(1339.0 489.8) rotate(0.0)"><rect x="-12.5" y="-6.0" width="25.0" height="12.0" fill="#000"/><text x="0" y="5.0" font-size="14.2" font-weight="700" fill="#fff100" stroke="#fff100" stroke-width="0.35" text-anchor="middle" textLength="20.0" lengthAdjust="spacingAndGlyphs">B11</text></g>
<g transform="translate(1393.5 489.8) rotate(0.0)"><rect x="-12.5" y="-6.0" width="25.0" height="12.0" fill="#000"/><text x="0" y="5.0" font-size="14.2" font-weight="700" fill="#fff100" stroke="#fff100" stroke-width="0.35" text-anchor="middle" textLength="20.0" lengthAdjust="spacingAndGlyphs">B13</text></g>
<g transform="translate(1264.2 549.4) rotate(0.0)"><rect x="-12.8" y="-6.4" width="25.5" height="12.8" fill="#000"/><text x="0" y="5.0" font-size="14.2" font-weight="700" fill="#fff100" stroke="#fff100" stroke-width="0.35" text-anchor="middle" textLength="14.2" lengthAdjust="spacingAndGlyphs">19</text></g>
<g transform="translate(997.5 709.9) rotate(0.0)"><rect x="-12.5" y="-5.9" width="25.0" height="11.7" fill="#000"/><text x="0" y="5.0" font-size="14.2" font-weight="700" fill="#fff100" stroke="#fff100" stroke-width="0.35" text-anchor="middle" textLength="14.2" lengthAdjust="spacingAndGlyphs">13</text></g>
<g transform="translate(554.0 1095.0) rotate(0.0)"><rect x="-12.8" y="-6.2" width="25.5" height="12.5" fill="#000"/><text x="0" y="5.0" font-size="14.2" font-weight="700" fill="#fff100" stroke="#fff100" stroke-width="0.35" text-anchor="middle" textLength="14.2" lengthAdjust="spacingAndGlyphs">31</text></g>
<g transform="translate(1088.0 996.5) rotate(0.0)"><rect x="-13.0" y="-6.2" width="25.9" height="12.4" fill="#000"/><text x="0" y="5.0" font-size="14.2" font-weight="700" fill="#fff100" stroke="#fff100" stroke-width="0.35" text-anchor="middle" textLength="14.2" lengthAdjust="spacingAndGlyphs">10</text></g>
<g transform="translate(997.0 1168.0) rotate(0.0)"><rect x="-12.8" y="-6.2" width="25.5" height="12.5" fill="#000"/><text x="0" y="5.0" font-size="14.2" font-weight="700" fill="#fff100" stroke="#fff100" stroke-width="0.35" text-anchor="middle" textLength="7.6" lengthAdjust="spacingAndGlyphs">6</text></g>
<g transform="translate(1035.8 1168.0) rotate(0.0)"><rect x="-12.8" y="-6.2" width="25.5" height="12.5" fill="#000"/><text x="0" y="5.0" font-size="14.2" font-weight="700" fill="#fff100" stroke="#fff100" stroke-width="0.35" text-anchor="middle" textLength="7.6" lengthAdjust="spacingAndGlyphs">9</text></g>
<g transform="translate(1097.0 283.4) rotate(90.0)"><rect x="-12.1" y="-6.5" width="24.2" height="13.0" fill="#000"/><text x="0" y="5.0" font-size="14.2" font-weight="700" fill="#fff100" stroke="#fff100" stroke-width="0.35" text-anchor="middle" textLength="13.0" lengthAdjust="spacingAndGlyphs">24</text></g>
<g transform="translate(1248.8 624.2) rotate(90.0)"><rect x="-12.2" y="-6.5" width="24.3" height="13.0" fill="#000"/><text x="0" y="5.0" font-size="14.2" font-weight="700" fill="#fff100" stroke="#fff100" stroke-width="0.35" text-anchor="middle" textLength="13.0" lengthAdjust="spacingAndGlyphs">20</text></g>
<g transform="translate(1251.2 764.5) rotate(90.0)"><rect x="-12.5" y="-6.7" width="25.0" height="13.3" fill="#000"/><text x="0" y="5.0" font-size="14.2" font-weight="700" fill="#fff100" stroke="#fff100" stroke-width="0.35" text-anchor="middle" textLength="12.0" lengthAdjust="spacingAndGlyphs">11</text></g>
<g transform="translate(1011.0 794.5) rotate(90.0)"><rect x="-12.5" y="-6.2" width="25.0" height="12.5" fill="#000"/><text x="0" y="5.0" font-size="14.2" font-weight="700" fill="#fff100" stroke="#fff100" stroke-width="0.35" text-anchor="middle" textLength="12.0" lengthAdjust="spacingAndGlyphs">12</text></g>
<g transform="translate(1240.8 493.8) rotate(-37.0)"><rect x="-12.5" y="-6.2" width="25.0" height="12.3" fill="#000"/><text x="0" y="5.0" font-size="14.2" font-weight="700" fill="#fff100" stroke="#fff100" stroke-width="0.35" text-anchor="middle" textLength="13.0" lengthAdjust="spacingAndGlyphs">18</text></g>
<g transform="translate(476.6 1093.6) rotate(30.0)"><rect x="-12.5" y="-6.2" width="25.0" height="12.3" fill="#000"/><text x="0" y="5.0" font-size="14.2" font-weight="700" fill="#fff100" stroke="#fff100" stroke-width="0.35" text-anchor="middle" textLength="13.0" lengthAdjust="spacingAndGlyphs">32</text></g>
<g transform="translate(1153.5 1259.0) rotate(-52.0)"><rect x="-11.5" y="-6.5" width="23.0" height="13.0" fill="#000"/><text x="0" y="5.0" font-size="14.2" font-weight="700" fill="#fff100" stroke="#fff100" stroke-width="0.35" text-anchor="middle" textLength="7.0" lengthAdjust="spacingAndGlyphs">5</text></g>
<g transform="translate(489.4 640.6) rotate(75.2)"><rect x="-27" y="-6.3" width="54" height="12.6" fill="#000"/><text x="-13.5" y="4.5" font-size="13.4" font-weight="700" fill="#fff100" text-anchor="middle" textLength="13" lengthAdjust="spacingAndGlyphs">29</text><text x="13.5" y="4.5" font-size="13.4" font-weight="700" fill="#fff100" text-anchor="middle" textLength="13" lengthAdjust="spacingAndGlyphs">28</text><rect x="-0.3" y="-6.3" width="0.6" height="12.6" fill="#fff100"/></g>
<g transform="translate(1331.9 1017.5) rotate(-9.5)"><rect x="-12.1" y="-5.8" width="24.2" height="11.5" fill="#000"/><text x="0" y="5.0" font-size="14.2" font-weight="700" fill="#fff100" stroke="#fff100" stroke-width="0.35" text-anchor="middle" textLength="18.0" lengthAdjust="spacingAndGlyphs">E11</text></g>
<g transform="translate(1486.2 1114.9) rotate(-10.0)"><rect x="-12.3" y="-5.8" width="24.6" height="11.5" fill="#000"/><text x="0" y="5.0" font-size="14.2" font-weight="700" fill="#fff100" stroke="#fff100" stroke-width="0.35" text-anchor="middle" textLength="13.0" lengthAdjust="spacingAndGlyphs">E2</text></g>
<g transform="translate(1367.7 1134.8) rotate(-10.0)"><rect x="-12.3" y="-5.8" width="24.6" height="11.5" fill="#000"/><text x="0" y="5.0" font-size="14.2" font-weight="700" fill="#fff100" stroke="#fff100" stroke-width="0.35" text-anchor="middle" textLength="18.0" lengthAdjust="spacingAndGlyphs">E10</text></g>
<g transform="translate(1471.5 1010.7) rotate(-9)"><rect x="-12" y="-12.6" width="24" height="25.2" fill="#000"/><text x="0" y="-1.2" font-size="13.4" font-weight="700" fill="#fff100" text-anchor="middle" textLength="14" lengthAdjust="spacingAndGlyphs">E1</text><text x="0" y="10.8" font-size="13.4" font-weight="700" fill="#fff100" text-anchor="middle" textLength="14" lengthAdjust="spacingAndGlyphs">E3</text></g>
<g transform="translate(1541.2 1006.5) rotate(78)"><rect x="-12" y="-5.6" width="24" height="11.2" fill="#000"/><text x="0" y="3.6" font-size="9.5" font-weight="700" fill="#fff100" text-anchor="middle" textLength="20" lengthAdjust="spacingAndGlyphs">地上&gt;</text></g>
<rect fill="#fff100" x="1251.5" y="161.3" width="25.5" height="37.5" stroke="#bbaa00" stroke-width="0.4"/>
<text x="1264.3" y="172.3" font-size="13.4" font-weight="700" text-anchor="middle" fill="#000" textLength="20" lengthAdjust="spacingAndGlyphs">15B</text>
<line x1="1251.5" y1="173.6" x2="1277" y2="173.6" stroke="#bbaa00" stroke-width="0.4"/>
<g transform="translate(1264.3 187.0) rotate(0.0) scale(0.920)" fill="#000" stroke="none"><path d="M-1.6,-4.4 V-10.8 L-4.4,-7.2 M1.5,-11 V-4.8 L4.2,-8.2" fill="none" stroke="#000" stroke-width="1.25" stroke-linejoin="miter"/><path d="M-7.4,-3.4 H7.4 V10.2 H-7.4 Z M-6.2,-2.2 V9 H6.2 V-2.2 Z" fill-rule="evenodd"/><circle cx="-2.6" cy="0.4" r="1.15"/><path d="M-4.3,1.9 H-0.9 V6 H-1.5 V9.4 H-3.7 V6 H-4.3 Z"/><circle cx="2.6" cy="0.4" r="1.15"/><path d="M0.9,1.9 H4.3 V6 H3.7 V9.4 H1.5 V6 H0.9 Z"/></g>
<polygon fill="#fff100" points="1277.8,908.8 1301.5,904.5 1307,941.3 1283.5,945" stroke="#bbaa00" stroke-width="0.4"/>
<text transform="translate(1290.6 912.8) rotate(-10.3)" x="0" y="4.2" font-size="13.4" font-weight="700" text-anchor="middle" fill="#000" textLength="6.5" lengthAdjust="spacingAndGlyphs">1</text>
<g transform="translate(1293.4 930.5) rotate(-10.3) scale(0.910)" fill="#000" stroke="none"><path d="M-1.6,-4.4 V-10.8 L-4.4,-7.2 M1.5,-11 V-4.8 L4.2,-8.2" fill="none" stroke="#000" stroke-width="1.25" stroke-linejoin="miter"/><path d="M-7.4,-3.4 H7.4 V10.2 H-7.4 Z M-6.2,-2.2 V9 H6.2 V-2.2 Z" fill-rule="evenodd"/><circle cx="-2.6" cy="0.4" r="1.15"/><path d="M-4.3,1.9 H-0.9 V6 H-1.5 V9.4 H-3.7 V6 H-4.3 Z"/><circle cx="2.6" cy="0.4" r="1.15"/><path d="M0.9,1.9 H4.3 V6 H3.7 V9.4 H1.5 V6 H0.9 Z"/></g>
<rect fill="#fff100" x="966.5" y="217.5" width="25.0" height="23.8" stroke="#bbaa00" stroke-width="0.4"/>
<g transform="translate(979.0 229.7) rotate(0.0) scale(0.952)" fill="#000" stroke="none"><path d="M-1.6,-4.4 V-10.8 L-4.4,-7.2 M1.5,-11 V-4.8 L4.2,-8.2" fill="none" stroke="#000" stroke-width="1.25" stroke-linejoin="miter"/><path d="M-7.4,-3.4 H7.4 V10.2 H-7.4 Z M-6.2,-2.2 V9 H6.2 V-2.2 Z" fill-rule="evenodd"/><circle cx="-2.6" cy="0.4" r="1.15"/><path d="M-4.3,1.9 H-0.9 V6 H-1.5 V9.4 H-3.7 V6 H-4.3 Z"/><circle cx="2.6" cy="0.4" r="1.15"/><path d="M0.9,1.9 H4.3 V6 H3.7 V9.4 H1.5 V6 H0.9 Z"/></g>
<rect fill="#fff100" x="991.7" y="569.7" width="24.3" height="24.3" stroke="#bbaa00" stroke-width="0.4"/>
<g transform="translate(1003.9 582.1) rotate(0.0) scale(0.972)" fill="#000" stroke="none"><path d="M-1.6,-4.4 V-10.8 L-4.4,-7.2 M1.5,-11 V-4.8 L4.2,-8.2" fill="none" stroke="#000" stroke-width="1.25" stroke-linejoin="miter"/><path d="M-7.4,-3.4 H7.4 V10.2 H-7.4 Z M-6.2,-2.2 V9 H6.2 V-2.2 Z" fill-rule="evenodd"/><circle cx="-2.6" cy="0.4" r="1.15"/><path d="M-4.3,1.9 H-0.9 V6 H-1.5 V9.4 H-3.7 V6 H-4.3 Z"/><circle cx="2.6" cy="0.4" r="1.15"/><path d="M0.9,1.9 H4.3 V6 H3.7 V9.4 H1.5 V6 H0.9 Z"/></g>
<rect fill="#fff100" x="1017.9" y="656.9" width="24.7" height="24.5" stroke="#bbaa00" stroke-width="0.4"/>
<g transform="translate(1030.2 669.4) rotate(0.0) scale(0.980)" fill="#000" stroke="none"><path d="M-1.6,-4.4 V-10.8 L-4.4,-7.2 M1.5,-11 V-4.8 L4.2,-8.2" fill="none" stroke="#000" stroke-width="1.25" stroke-linejoin="miter"/><path d="M-7.4,-3.4 H7.4 V10.2 H-7.4 Z M-6.2,-2.2 V9 H6.2 V-2.2 Z" fill-rule="evenodd"/><circle cx="-2.6" cy="0.4" r="1.15"/><path d="M-4.3,1.9 H-0.9 V6 H-1.5 V9.4 H-3.7 V6 H-4.3 Z"/><circle cx="2.6" cy="0.4" r="1.15"/><path d="M0.9,1.9 H4.3 V6 H3.7 V9.4 H1.5 V6 H0.9 Z"/></g>
<rect fill="#fff100" x="1098.4" y="1050.6" width="25.4" height="24.9" stroke="#bbaa00" stroke-width="0.4"/>
<g transform="translate(1111.1 1063.3) rotate(0.0) scale(0.996)" fill="#000" stroke="none"><path d="M-1.6,-4.4 V-10.8 L-4.4,-7.2 M1.5,-11 V-4.8 L4.2,-8.2" fill="none" stroke="#000" stroke-width="1.25" stroke-linejoin="miter"/><path d="M-7.4,-3.4 H7.4 V10.2 H-7.4 Z M-6.2,-2.2 V9 H6.2 V-2.2 Z" fill-rule="evenodd"/><circle cx="-2.6" cy="0.4" r="1.15"/><path d="M-4.3,1.9 H-0.9 V6 H-1.5 V9.4 H-3.7 V6 H-4.3 Z"/><circle cx="2.6" cy="0.4" r="1.15"/><path d="M0.9,1.9 H4.3 V6 H3.7 V9.4 H1.5 V6 H0.9 Z"/></g>
<polygon fill="#f4f2bd" points="407.5,350 432.5,353.8 428.8,377.5 404.5,373.8" stroke="#bbaa00" stroke-width="0.4"/>
<g transform="translate(418.3 364.3) rotate(8.6) scale(0.997)" fill="#000" stroke="none"><path d="M-1.6,-4.4 V-10.8 L-4.4,-7.2 M1.5,-11 V-4.8 L4.2,-8.2" fill="none" stroke="#000" stroke-width="1.25" stroke-linejoin="miter"/><path d="M-7.4,-3.4 H7.4 V10.2 H-7.4 Z M-6.2,-2.2 V9 H6.2 V-2.2 Z" fill-rule="evenodd"/><circle cx="-2.6" cy="0.4" r="1.15"/><path d="M-4.3,1.9 H-0.9 V6 H-1.5 V9.4 H-3.7 V6 H-4.3 Z"/><circle cx="2.6" cy="0.4" r="1.15"/><path d="M0.9,1.9 H4.3 V6 H3.7 V9.4 H1.5 V6 H0.9 Z"/></g>
<text x="1016.4" y="1171.5" font-size="10.0" fill="#1a1a1a" font-weight="400" text-anchor="middle" >~</text>
<circle cx="37.5" cy="36.8" r="25" fill="#58595b"/>
<path d="M37.5,23.5 L46.2,59.2 Q37.5,55.6 28.8,59.2 Z" fill="#fdfdfd"/>
<text x="37.5" y="22.6" font-size="12.5" fill="#fdfdfd" font-weight="700" text-anchor="middle" >N</text>
<text x="37.9" y="73.0" font-size="10.5" fill="#1a1a1a" font-weight="400" text-anchor="middle" textLength="38.0" lengthAdjust="spacingAndGlyphs" >000100</text>
<text x="282.0" y="22.3" font-size="11.5" fill="#1a1a1a" font-weight="350" text-anchor="start" textLength="69.0" lengthAdjust="spacingAndGlyphs" >四つ橋筋東側</text>
<text x="205.0" y="160.0" font-size="11.0" fill="#1a1a1a" font-weight="350" text-anchor="start" textLength="96.0" lengthAdjust="spacingAndGlyphs" >湊町リバープレイス</text>
<text x="205.0" y="176.3" font-size="11.0" fill="#1a1a1a" font-weight="350" text-anchor="start" textLength="67.5" lengthAdjust="spacingAndGlyphs" >なんばHatch</text>
<text x="7.0" y="226.3" font-size="12.0" fill="#1a1a1a" font-weight="350" text-anchor="start" textLength="57.0" lengthAdjust="spacingAndGlyphs" >OCATビル</text>
<text x="32.0" y="244.5" font-size="14.0" fill="#1a1a1a" font-weight="500" text-anchor="start" textLength="47.5" lengthAdjust="spacingAndGlyphs" >JR難波</text>
<text x="32.0" y="253.8" font-size="9.0" fill="#1a1a1a" font-weight="400" text-anchor="start" textLength="80.5" lengthAdjust="spacingAndGlyphs" >JR Line JR Namba</text>
<text x="32.0" y="272.5" font-size="14.0" fill="#1a1a1a" font-weight="500" text-anchor="start" textLength="53.0" lengthAdjust="spacingAndGlyphs" >高速バス</text>
<text x="32.0" y="281.3" font-size="9.0" fill="#1a1a1a" font-weight="400" text-anchor="start" textLength="70.5" lengthAdjust="spacingAndGlyphs" >Expressway Bus</text>
<text x="32.0" y="300.0" font-size="14.0" fill="#1a1a1a" font-weight="500" text-anchor="start" textLength="54.0" lengthAdjust="spacingAndGlyphs" >空港バス</text>
<text x="86.3" y="300.0" font-size="9.0" fill="#1a1a1a" font-weight="700" text-anchor="start" textLength="128.8" lengthAdjust="spacingAndGlyphs" >(大阪空港･関西国際空港行き)</text>
<text x="32.0" y="308.8" font-size="9.0" fill="#1a1a1a" font-weight="400" text-anchor="start" textLength="74.0" lengthAdjust="spacingAndGlyphs" >Airport Limousine</text>
<text x="32.0" y="318.8" font-size="9.0" fill="#1a1a1a" font-weight="400" text-anchor="start" textLength="75.5" lengthAdjust="spacingAndGlyphs" >(to Osaka Airport･</text>
<text x="32.0" y="328.0" font-size="9.0" fill="#1a1a1a" font-weight="400" text-anchor="start" textLength="114.0" lengthAdjust="spacingAndGlyphs" >Kansai International Airport)</text>
<text x="154.0" y="326.0" font-size="11.0" fill="#1a1a1a" font-weight="350" text-anchor="start" textLength="98.0" lengthAdjust="spacingAndGlyphs" transform="rotate(12.5 154.0 326.0)" >ムービングウォーク</text>
<text transform="translate(312.0 122.0) rotate(-18.0)" x="0" y="7.4" font-size="20.5" font-weight="700" fill="#8b8d90" text-anchor="middle" textLength="31.0" lengthAdjust="spacingAndGlyphs">B1F</text>
<text transform="translate(160.0 158.0) rotate(8.0)" x="0" y="7.4" font-size="20.5" font-weight="700" fill="#8b8d90" text-anchor="middle" textLength="19.0" lengthAdjust="spacingAndGlyphs">1F</text>
<text transform="translate(159.0 184.0) rotate(14.0)" x="0" y="7.4" font-size="20.5" font-weight="700" fill="#8b8d90" text-anchor="middle" textLength="31.0" lengthAdjust="spacingAndGlyphs">B1F</text>
<text transform="translate(224.5 262.5) rotate(12.0)" x="0" y="7.4" font-size="20.5" font-weight="700" fill="#8b8d90" text-anchor="middle" textLength="31.0" lengthAdjust="spacingAndGlyphs">B2F</text>
<text transform="translate(300.6 344.4) rotate(0.0)" x="0" y="7.4" font-size="20.5" font-weight="700" fill="#8b8d90" text-anchor="middle" textLength="31.0" lengthAdjust="spacingAndGlyphs">B1F</text>
<text transform="translate(184.4 457.5) rotate(0.0)" x="0" y="7.4" font-size="20.5" font-weight="700" fill="#8b8d90" text-anchor="middle" textLength="31.0" lengthAdjust="spacingAndGlyphs">B1F</text>
<text transform="translate(669.5 414.0) rotate(0.0)" x="0" y="7.4" font-size="20.5" font-weight="700" fill="#8b8d90" text-anchor="middle" textLength="31.0" lengthAdjust="spacingAndGlyphs">B1F</text>
<text transform="translate(529.4 497.5) rotate(0.0)" x="0" y="7.4" font-size="20.5" font-weight="700" fill="#8b8d90" text-anchor="middle" textLength="31.0" lengthAdjust="spacingAndGlyphs">B2F</text>
<text transform="translate(775.2 523.3) rotate(0.0)" x="0" y="7.4" font-size="20.5" font-weight="700" fill="#6e6e70" text-anchor="middle" textLength="31.0" lengthAdjust="spacingAndGlyphs">B3F</text>
<text transform="translate(1015.2 305.6) rotate(0.0)" x="0" y="7.4" font-size="20.5" font-weight="700" fill="#8b8d90" text-anchor="middle" textLength="31.0" lengthAdjust="spacingAndGlyphs">B1F</text>
<text transform="translate(1292.4 305.0) rotate(0.0)" x="0" y="7.4" font-size="20.5" font-weight="700" fill="#8b8d90" text-anchor="middle" textLength="31.0" lengthAdjust="spacingAndGlyphs">B1F</text>
<text transform="translate(1109.8 438.8) rotate(0.0)" x="0" y="7.4" font-size="20.5" font-weight="700" fill="#8b8d90" text-anchor="middle" textLength="31.0" lengthAdjust="spacingAndGlyphs">B1F</text>
<text transform="translate(1038.2 474.3) rotate(0.0)" x="0" y="7.4" font-size="20.5" font-weight="700" fill="#b9a3a6" text-anchor="middle" textLength="31.0" lengthAdjust="spacingAndGlyphs">B2F</text>
<text transform="translate(395.0 712.5) rotate(-17.0)" x="0" y="7.4" font-size="20.5" font-weight="700" fill="#8b8d90" text-anchor="middle" textLength="31.0" lengthAdjust="spacingAndGlyphs">B1F</text>
<text transform="translate(544.3 932.5) rotate(-17.0)" x="0" y="7.4" font-size="20.5" font-weight="700" fill="#d5dcec" text-anchor="middle" textLength="31.0" lengthAdjust="spacingAndGlyphs">B2F</text>
<text transform="translate(1014.8 985.6) rotate(0.0)" x="0" y="7.4" font-size="20.5" font-weight="700" fill="#8b8d90" text-anchor="middle" textLength="31.0" lengthAdjust="spacingAndGlyphs">B1F</text>
<text transform="translate(1195.5 1107.3) rotate(0.0)" x="0" y="7.4" font-size="20.5" font-weight="700" fill="#8b8d90" text-anchor="middle" textLength="31.0" lengthAdjust="spacingAndGlyphs">B1F</text>
<text transform="translate(1307.5 877.5) rotate(-8.0)" x="0" y="7.4" font-size="20.5" font-weight="700" fill="#8b8d90" text-anchor="middle" textLength="19.0" lengthAdjust="spacingAndGlyphs">1F</text>
<text transform="translate(1199.7 1233.0) rotate(0.0)" x="0" y="7.4" font-size="20.5" font-weight="700" fill="#8b8d90" text-anchor="middle" textLength="19.0" lengthAdjust="spacingAndGlyphs">1F</text>
<text transform="translate(1290.9 1245.0) rotate(0.0)" x="0" y="7.4" font-size="20.5" font-weight="700" fill="#8b8d90" text-anchor="middle" textLength="31.0" lengthAdjust="spacingAndGlyphs">B1F</text>
<text x="30.0" y="507.5" font-size="11.0" fill="#1a1a1a" font-weight="350" text-anchor="start" textLength="86.0" lengthAdjust="spacingAndGlyphs" >マルイト難波ビル</text>
<text x="30.0" y="523.8" font-size="11.0" fill="#1a1a1a" font-weight="350" text-anchor="start" textLength="150.0" lengthAdjust="spacingAndGlyphs" >ホテルモントレグラスミア大阪</text>
<text x="267.0" y="657.0" font-size="10.0" fill="#1a1a1a" font-weight="350" text-anchor="start" textLength="41.0" lengthAdjust="spacingAndGlyphs" >隣接トイレ</text>
<text x="740.7" y="421.7" font-size="13.3" fill="#f26a1b" font-weight="700" text-anchor="start" textLength="93.0" lengthAdjust="spacingAndGlyphs" stroke="#ffffff" stroke-width="2.3" style="paint-order:stroke" stroke-linejoin="round" >なんばウォーク</text>
<text x="740.7" y="421.7" font-size="13.3" fill="#f26a1b" font-weight="700" text-anchor="start" textLength="93.0" lengthAdjust="spacingAndGlyphs" stroke="#f26a1b" stroke-width="0.45" style="paint-order:stroke" stroke-linejoin="round" >なんばウォーク</text>
<text x="1233.5" y="425.0" font-size="13.3" fill="#f26a1b" font-weight="700" text-anchor="start" textLength="93.0" lengthAdjust="spacingAndGlyphs" stroke="#ffffff" stroke-width="2.3" style="paint-order:stroke" stroke-linejoin="round" >なんばウォーク</text>
<text x="1233.5" y="425.0" font-size="13.3" fill="#f26a1b" font-weight="700" text-anchor="start" textLength="93.0" lengthAdjust="spacingAndGlyphs" stroke="#f26a1b" stroke-width="0.45" style="paint-order:stroke" stroke-linejoin="round" >なんばウォーク</text>
<text x="1110.9" y="393.5" font-size="15.5" fill="#f26a1b" font-weight="400" text-anchor="start" textLength="45.2" lengthAdjust="spacingAndGlyphs" stroke="#ffffff" stroke-width="2.3" style="paint-order:stroke" stroke-linejoin="round" >ekimo</text>
<text x="1110.9" y="393.5" font-size="15.5" fill="#f26a1b" font-weight="400" text-anchor="start" textLength="45.2" lengthAdjust="spacingAndGlyphs" stroke="#f26a1b" stroke-width="0.45" style="paint-order:stroke" stroke-linejoin="round" >ekimo</text>
<text x="1148.0" y="836.3" font-size="15.5" fill="#f26a1b" font-weight="400" text-anchor="start" textLength="45.0" lengthAdjust="spacingAndGlyphs" stroke="#ffffff" stroke-width="2.3" style="paint-order:stroke" stroke-linejoin="round" >ekimo</text>
<text x="1148.0" y="836.3" font-size="15.5" fill="#f26a1b" font-weight="400" text-anchor="start" textLength="45.0" lengthAdjust="spacingAndGlyphs" stroke="#f26a1b" stroke-width="0.45" style="paint-order:stroke" stroke-linejoin="round" >ekimo</text>
<text x="1361.4" y="1075.6" font-size="15.0" fill="#f26a1b" font-weight="700" text-anchor="start" textLength="112.5" lengthAdjust="spacingAndGlyphs" stroke="#ffffff" stroke-width="2.3" style="paint-order:stroke" stroke-linejoin="round" >NAMBAなんなん</text>
<text x="1361.4" y="1075.6" font-size="15.0" fill="#f26a1b" font-weight="700" text-anchor="start" textLength="112.5" lengthAdjust="spacingAndGlyphs" stroke="#f26a1b" stroke-width="0.45" style="paint-order:stroke" stroke-linejoin="round" >NAMBAなんなん</text>
<text x="1386.0" y="1216.3" font-size="15.0" fill="#f26a1b" font-weight="700" text-anchor="start" textLength="76.8" lengthAdjust="spacingAndGlyphs" stroke="#ffffff" stroke-width="2.3" style="paint-order:stroke" stroke-linejoin="round" >なんばCITY</text>
<text x="1386.0" y="1216.3" font-size="15.0" fill="#f26a1b" font-weight="700" text-anchor="start" textLength="76.8" lengthAdjust="spacingAndGlyphs" stroke="#f26a1b" stroke-width="0.45" style="paint-order:stroke" stroke-linejoin="round" >なんばCITY</text>
<text x="991.0" y="258.8" font-size="11.0" fill="#1a1a1a" font-weight="350" text-anchor="start" textLength="98.8" lengthAdjust="spacingAndGlyphs" >御堂筋グランドビル</text>
<text x="1171.0" y="211.0" font-size="11.5" fill="#1a1a1a" font-weight="350" text-anchor="end" >大阪市サービス</text>
<text x="1171.0" y="223.0" font-size="11.5" fill="#1a1a1a" font-weight="350" text-anchor="end" >カウンター</text>
<text x="1107.8" y="280.0" font-size="11.7" fill="#1a1a1a" font-weight="350" text-anchor="start" textLength="58.7" lengthAdjust="spacingAndGlyphs" >難波交差点</text>
<text x="1107.8" y="293.8" font-size="11.7" fill="#1a1a1a" font-weight="350" text-anchor="start" >北西</text>
<text x="1233.5" y="260.0" font-size="12.4" fill="#1a1a1a" font-weight="400" text-anchor="start" textLength="70.5" lengthAdjust="spacingAndGlyphs" >namba HIPS</text>
<text x="1233.0" y="351.7" font-size="11.7" fill="#1a1a1a" font-weight="350" text-anchor="start" textLength="59.3" lengthAdjust="spacingAndGlyphs" >難波交差点</text>
<text x="1292.3" y="365.0" font-size="11.7" fill="#1a1a1a" font-weight="350" text-anchor="end" >北東</text>
<text x="1257.3" y="490.5" font-size="11.7" fill="#1a1a1a" font-weight="350" text-anchor="start" textLength="58.7" lengthAdjust="spacingAndGlyphs" >難波交差点</text>
<text x="1257.3" y="503.8" font-size="11.7" fill="#1a1a1a" font-weight="350" text-anchor="start" >南東</text>
<text x="1406.0" y="400.0" font-size="13.0" fill="#1a1a1a" font-weight="700" text-anchor="start" textLength="100.0" lengthAdjust="spacingAndGlyphs" >千日前線･堺筋線</text>
<text x="1406.0" y="413.8" font-size="13.0" fill="#1a1a1a" font-weight="700" text-anchor="start" >日本橋</text>
<text x="1406.0" y="422.5" font-size="8.8" fill="#1a1a1a" font-weight="400" text-anchor="start" textLength="140.5" lengthAdjust="spacingAndGlyphs" >Sennichimae Line･Sakaisuji Line</text>
<text x="1406.0" y="432.0" font-size="8.8" fill="#1a1a1a" font-weight="400" text-anchor="start" >Nippombashi</text>
<text x="1406.0" y="453.8" font-size="13.5" fill="#1a1a1a" font-weight="700" text-anchor="start" textLength="68.0" lengthAdjust="spacingAndGlyphs" >近鉄日本橋</text>
<text x="1406.0" y="462.5" font-size="8.8" fill="#1a1a1a" font-weight="400" text-anchor="start" >Kintetsu Line</text>
<text x="1406.0" y="472.5" font-size="8.8" fill="#1a1a1a" font-weight="400" text-anchor="start" textLength="93.0" lengthAdjust="spacingAndGlyphs" >Kintetsu Nippombashi</text>
<text x="1244.5" y="748.8" font-size="11.3" fill="#1a1a1a" font-weight="350" text-anchor="start" textLength="67.5" lengthAdjust="spacingAndGlyphs" >御堂筋ホテル</text>
<text x="1186.0" y="925.8" font-size="11.5" fill="#1a1a1a" font-weight="350" text-anchor="start" textLength="46.7" lengthAdjust="spacingAndGlyphs" >乗車専用</text>
<text x="1125.2" y="1034.6" font-size="11.5" fill="#1a1a1a" font-weight="350" text-anchor="start" textLength="46.0" lengthAdjust="spacingAndGlyphs" >降車専用</text>
<text x="1352.8" y="925.0" font-size="10.7" fill="#1a1a1a" font-weight="350" text-anchor="start" textLength="64.0" lengthAdjust="spacingAndGlyphs" >なんばマルイ</text>
<text x="1424.2" y="1037.0" font-size="11.6" fill="#1a1a1a" font-weight="350" text-anchor="start" textLength="34.7" lengthAdjust="spacingAndGlyphs" >案内所</text>
<text x="1480.3" y="1153.0" font-size="11.7" fill="#1a1a1a" font-weight="350" text-anchor="start" textLength="35.0" lengthAdjust="spacingAndGlyphs" >高島屋</text>
<text x="1492.8" y="1235.5" font-size="11.7" fill="#1a1a1a" font-weight="350" text-anchor="start" textLength="35.0" lengthAdjust="spacingAndGlyphs" >高島屋</text>
<text x="1237.0" y="1285.5" font-size="11.7" fill="#1a1a1a" font-weight="350" text-anchor="start" textLength="35.0" lengthAdjust="spacingAndGlyphs" >高島屋</text>
<text x="1156.3" y="1325.7" font-size="11.0" fill="#1a1a1a" font-weight="350" text-anchor="start" textLength="76.7" lengthAdjust="spacingAndGlyphs" >なんばパークス</text>
<text x="1370.3" y="1333.8" font-size="13.5" fill="#1a1a1a" font-weight="700" text-anchor="end" >南海なんば</text>
<text x="1370.3" y="1343.8" font-size="9.0" fill="#1a1a1a" font-weight="400" text-anchor="end" >Nankai Line Namba</text>
<text x="1370.3" y="1363.0" font-size="13.5" fill="#1a1a1a" font-weight="700" text-anchor="end" >高速バス</text>
<text x="1370.3" y="1372.5" font-size="9.0" fill="#1a1a1a" font-weight="400" text-anchor="end" >Expressway Bus</text>
<text x="1434.0" y="1321.3" font-size="11.5" fill="#1a1a1a" font-weight="700" text-anchor="start" textLength="91.3" lengthAdjust="spacingAndGlyphs" >大阪市ビジターズ</text>
<text x="1434.0" y="1333.8" font-size="11.5" fill="#1a1a1a" font-weight="700" text-anchor="start" textLength="97.5" lengthAdjust="spacingAndGlyphs" >インフォメーション</text>
<text x="1434.0" y="1347.0" font-size="11.5" fill="#1a1a1a" font-weight="700" text-anchor="start" textLength="73.8" lengthAdjust="spacingAndGlyphs" >センター･難波</text>
<text x="1432.8" y="1358.0" font-size="9.0" fill="#1a1a1a" font-weight="400" text-anchor="start" textLength="113.8" lengthAdjust="spacingAndGlyphs" >Osaka Visitors’ Information</text>
<text x="1432.8" y="1367.0" font-size="9.0" fill="#1a1a1a" font-weight="400" text-anchor="start" textLength="65.0" lengthAdjust="spacingAndGlyphs" >Center, Namba</text>
<text x="1434.0" y="1380.0" font-size="12.0" fill="#1a1a1a" font-weight="400" text-anchor="start" textLength="101.0" lengthAdjust="spacingAndGlyphs" >☎ 06-6631-9100</text>
<text x="1432.8" y="1392.5" font-size="11.0" fill="#1a1a1a" font-weight="350" text-anchor="start" textLength="118.8" lengthAdjust="spacingAndGlyphs" >南海ターミナルビル1F</text>
<text x="979.0" y="643.7" font-size="11.7" fill="#1a1a1a" font-weight="350" text-anchor="end" >近鉄難波ビル</text>
<text x="979.0" y="657.0" font-size="11.7" fill="#1a1a1a" font-weight="350" text-anchor="end" >7:45〜20:00</text>
<text x="976.7" y="702.0" font-size="11.4" fill="#1a1a1a" font-weight="350" text-anchor="end" >なんば御堂筋ビル</text>
<text x="976.7" y="716.3" font-size="11.7" fill="#1a1a1a" font-weight="350" text-anchor="end" >5:00〜24:00</text>
<text x="1073.0" y="1061.3" font-size="11.5" fill="#1a1a1a" font-weight="350" text-anchor="end" >難波御堂筋</text>
<text x="1073.0" y="1074.3" font-size="11.5" fill="#1a1a1a" font-weight="350" text-anchor="end" >センタービル</text>
<text x="1073.0" y="1087.5" font-size="11.5" fill="#1a1a1a" font-weight="350" text-anchor="end" >5:00〜24:00</text>
<text x="1022.3" y="1190.0" font-size="13.0" fill="#1a1a1a" font-weight="500" text-anchor="end" >空港バス</text>
<text x="969.5" y="1189.0" font-size="9.0" fill="#1a1a1a" font-weight="700" text-anchor="end" textLength="66.0" lengthAdjust="spacingAndGlyphs" >(大阪空港行き)</text>
<text x="1023.0" y="1200.0" font-size="9.0" fill="#1a1a1a" font-weight="400" text-anchor="end" textLength="162.0" lengthAdjust="spacingAndGlyphs" >(to Osaka Airport)Airport Limousine</text>
<text x="528.0" y="572.5" font-size="12.0" fill="#1a1a1a" font-weight="500" text-anchor="start" textLength="97.5" lengthAdjust="spacingAndGlyphs" >はんしん･きんてつ</text>
<text x="528.0" y="587.5" font-size="12.0" fill="#1a1a1a" font-weight="500" text-anchor="start" textLength="80.5" lengthAdjust="spacingAndGlyphs" >おおさかなんば</text>
<text x="528.0" y="607.5" font-size="13.0" fill="#1a1a1a" font-weight="700" text-anchor="start" textLength="58.8" lengthAdjust="spacingAndGlyphs" >阪神･近鉄</text>
<text x="591.8" y="607.5" font-size="19.0" fill="#1a1a1a" font-weight="700" text-anchor="start" textLength="77.5" lengthAdjust="spacingAndGlyphs" >大阪難波</text>
<text x="528.0" y="620.0" font-size="11.5" fill="#1a1a1a" font-weight="400" text-anchor="start" textLength="121.0" lengthAdjust="spacingAndGlyphs" >Hanshin･Kintetsu Line</text>
<text x="528.0" y="633.0" font-size="11.5" fill="#1a1a1a" font-weight="400" text-anchor="start" textLength="78.0" lengthAdjust="spacingAndGlyphs" >Osaka-Namba</text>
<text x="528.0" y="645.5" font-size="11.5" fill="#1a1a1a" font-weight="400" text-anchor="start" textLength="100.0" lengthAdjust="spacingAndGlyphs" >☎ 06-6213-0821</text>
<circle cx="734.3" cy="623.8" r="18.5" fill="#fff" stroke="#f59ac2" stroke-width="2.2"/>
<text x="734.3" y="620.5" font-size="13.0" fill="#1a1a1a" font-weight="700" text-anchor="middle" >S</text>
<text x="734.3" y="636.5" font-size="17.0" fill="#1a1a1a" font-weight="700" text-anchor="middle" >16</text>
<text x="760.0" y="622.0" font-size="19.0" fill="#1a1a1a" font-weight="500" text-anchor="start" textLength="56.7" lengthAdjust="spacingAndGlyphs" >なんば</text>
<text x="760.0" y="635.3" font-size="11.5" fill="#1a1a1a" font-weight="400" text-anchor="start" >Namba</text>
<text x="760.0" y="647.0" font-size="11.5" fill="#1a1a1a" font-weight="400" text-anchor="start" textLength="100.0" lengthAdjust="spacingAndGlyphs" >☎ 06-6211-4893</text>
<text x="760.0" y="598.7" font-size="17.5" fill="#f59ac2" font-weight="400" text-anchor="start" textLength="70.0" lengthAdjust="spacingAndGlyphs" >千日前線</text>
<text x="833.3" y="595.3" font-size="13.0" fill="#f59ac2" font-weight="400" text-anchor="start" textLength="107.4" lengthAdjust="spacingAndGlyphs" >Sennichimae Line</text>
<circle cx="564.3" cy="733.8" r="18.5" fill="#fff" stroke="#2f6bd0" stroke-width="2.2"/>
<text x="564.3" y="730.5" font-size="13.0" fill="#1a1a1a" font-weight="700" text-anchor="middle" >Y</text>
<text x="564.3" y="746.5" font-size="17.0" fill="#1a1a1a" font-weight="700" text-anchor="middle" >15</text>
<text x="590.5" y="730.0" font-size="19.0" fill="#1a1a1a" font-weight="500" text-anchor="start" textLength="56.7" lengthAdjust="spacingAndGlyphs" >なんば</text>
<text x="590.5" y="743.0" font-size="11.5" fill="#1a1a1a" font-weight="400" text-anchor="start" >Namba</text>
<text x="590.5" y="755.0" font-size="11.5" fill="#1a1a1a" font-weight="400" text-anchor="start" textLength="100.0" lengthAdjust="spacingAndGlyphs" >☎ 06-6633-0350</text>
<circle cx="966" cy="836.3" r="19" fill="#fff" stroke="#dc0013" stroke-width="2.2"/>
<text x="966.0" y="833.0" font-size="13.0" fill="#1a1a1a" font-weight="700" text-anchor="middle" >M</text>
<text x="966.0" y="849.5" font-size="17.0" fill="#1a1a1a" font-weight="700" text-anchor="middle" >20</text>
<text x="942.3" y="831.3" font-size="19.0" fill="#1a1a1a" font-weight="500" text-anchor="end" >なんば</text>
<text x="942.3" y="845.0" font-size="11.5" fill="#1a1a1a" font-weight="400" text-anchor="end" >Namba</text>
<text x="942.3" y="856.3" font-size="11.5" fill="#1a1a1a" font-weight="400" text-anchor="end" textLength="100.0" lengthAdjust="spacingAndGlyphs" >☎ 06-6211-4893</text>
<circle cx="1359" cy="412.5" r="12" fill="#fff" stroke="#f59ac2" stroke-width="2"/>
<circle cx="1391" cy="412.5" r="12" fill="#fff" stroke="#c8772a" stroke-width="2"/>
<text x="1359.0" y="410.5" font-size="9.5" fill="#1a1a1a" font-weight="700" text-anchor="middle" >S</text>
<text x="1359.0" y="422.0" font-size="12.0" fill="#1a1a1a" font-weight="700" text-anchor="middle" >17</text>
<text x="1391.0" y="410.5" font-size="9.5" fill="#1a1a1a" font-weight="700" text-anchor="middle" >K</text>
<text x="1391.0" y="422.0" font-size="12.0" fill="#1a1a1a" font-weight="700" text-anchor="middle" >17</text>
<text x="1006.0" y="815.0" fill="#dc0013" font-weight="500" style="writing-mode:vertical-rl;text-orientation:mixed" transform="rotate(0.0 1006.0 815.0)"><tspan font-size="16.0" textLength="66.0" lengthAdjust="spacingAndGlyphs">御堂筋線</tspan></text>
<text x="1005.0" y="886.0" fill="#dc0013" font-weight="400" style="writing-mode:vertical-rl;text-orientation:mixed" transform="rotate(0.0 1005.0 886.0)"><tspan font-size="12.5" textLength="76.0" lengthAdjust="spacingAndGlyphs">Midosuji Line</tspan></text>
<text x="522.5" y="722.0" fill="#2f6bd0" font-weight="500" style="writing-mode:vertical-rl;text-orientation:mixed" transform="rotate(-18.0 522.5 722.0)"><tspan font-size="14.5" textLength="62.0" lengthAdjust="spacingAndGlyphs">四つ橋線</tspan></text>
<text x="541.5" y="783.0" fill="#2f6bd0" font-weight="400" style="writing-mode:vertical-rl;text-orientation:mixed" transform="rotate(-18.0 541.5 783.0)"><tspan font-size="11.0" textLength="88.0" lengthAdjust="spacingAndGlyphs">Yotsubashi Line</tspan></text>
<text x="748.0" y="553.7" font-size="23.0" fill="#ffffff" font-weight="700" text-anchor="middle" >1</text>
<text x="775.6" y="577.5" font-size="23.0" fill="#ffffff" font-weight="700" text-anchor="middle" >2</text>
<path d="M760,535.3 L787.3,543.6 L760,552 Z" fill="#fff"/>
<text x="768.0" y="546.5" font-size="6.5" fill="#f59ac2" font-weight="400" text-anchor="middle" >17</text>
<path d="M760,562 L734.7,568.6 L760,575.3 Z" fill="none" stroke="#fff" stroke-width="1"/>
<text x="752.5" y="571.0" font-size="6.5" fill="#ffffff" font-weight="400" text-anchor="middle" >15</text>
<text x="657.3" y="577.0" font-size="10.5" fill="#ffffff" font-weight="400" text-anchor="start" textLength="56.7" lengthAdjust="spacingAndGlyphs" >◁野田阪神</text>
<text x="834.0" y="546.0" font-size="10.0" fill="#ffffff" font-weight="400" text-anchor="start" textLength="28.3" lengthAdjust="spacingAndGlyphs" >南巽▷</text>
<text x="830.7" y="558.7" font-size="10.0" fill="#ffffff" font-weight="400" text-anchor="start" textLength="25.0" lengthAdjust="spacingAndGlyphs" >･鶴橋</text>
<g transform="translate(498.5 805) rotate(-17)"><text x="0" y="8" font-size="23" font-weight="700" fill="#fff" text-anchor="middle">2</text></g>
<g transform="translate(523.5 796) rotate(-17)"><text x="0" y="8" font-size="23" font-weight="700" fill="#fff" text-anchor="middle">1</text></g>
<path d="M487,764 L501.5,786 L484.5,791 Z" fill="none" stroke="#fff" stroke-width="1"/>
<text x="492.0" y="787.0" font-size="6.0" fill="#ffffff" font-weight="400" text-anchor="middle" transform="rotate(-17.0 492.0 787.0)" >14</text>
<path d="M521,813 L538,808 L536.5,836 Z" fill="#fff"/>
<text x="530.5" y="817.0" font-size="6.0" fill="#2f6bd0" font-weight="400" text-anchor="middle" transform="rotate(-17.0 530.5 817.0)" >16</text>
<text x="550.5" y="863.0" fill="#ffffff" font-weight="400" style="writing-mode:vertical-rl;text-orientation:mixed" transform="rotate(-17.0 550.5 863.0)"><tspan font-size="9.5" textLength="62.0" lengthAdjust="spacingAndGlyphs">住之江公園▽</tspan></text>
<text x="419.0" y="580.0" fill="#ffffff" font-weight="400" style="writing-mode:vertical-rl;text-orientation:mixed" transform="rotate(-17.0 419.0 580.0)"><tspan font-size="9.5" textLength="38.0" lengthAdjust="spacingAndGlyphs">△西梅田</tspan></text>
<text x="1041.0" y="812.0" font-size="25.0" fill="#ffffff" font-weight="700" text-anchor="middle" >2</text>
<text x="1091.0" y="800.0" font-size="25.0" fill="#ffffff" font-weight="700" text-anchor="middle" >1</text>
<path d="M1041,763 L1049.5,790 L1032.5,790 Z" fill="none" stroke="#fff" stroke-width="1"/>
<text x="1041.0" y="788.0" font-size="6.5" fill="#ffffff" font-weight="400" text-anchor="middle" >19</text>
<path d="M1083,808 L1099,808 L1091,838 Z" fill="#fff"/>
<text x="1091.0" y="817.0" font-size="6.5" fill="#dc0013" font-weight="400" text-anchor="middle" >21</text>
<text x="1091.5" y="842.0" fill="#ffffff" font-weight="400" style="writing-mode:vertical-rl;text-orientation:mixed" transform="rotate(0.0 1091.5 842.0)"><tspan font-size="9.0" textLength="42.0" lengthAdjust="spacingAndGlyphs">天王寺▼</tspan></text>
<text x="1035.5" y="560.0" fill="#ffffff" font-weight="400" style="writing-mode:vertical-rl;text-orientation:mixed" transform="rotate(0.0 1035.5 560.0)"><tspan font-size="9.5" textLength="34.0" lengthAdjust="spacingAndGlyphs">△梅田</tspan></text>
<text x="333.8" y="441.5" font-size="11.5" fill="#7a7452" font-weight="700" text-anchor="middle" >北</text>
<text x="570.5" y="466.0" font-size="10.5" fill="#7a7452" font-weight="700" text-anchor="middle" >西</text>
<text x="901.0" y="484.5" font-size="11.5" fill="#7a7452" font-weight="700" text-anchor="middle" >東</text>
<text x="1123.0" y="497.0" font-size="11.5" fill="#7a7452" font-weight="700" text-anchor="middle" >北西</text>
<text x="1155.5" y="486.0" font-size="11.5" fill="#7a7452" font-weight="700" text-anchor="middle" >北東</text>
<text x="1138.6" y="731.0" font-size="11.5" fill="#7a7452" font-weight="700" text-anchor="middle" >中</text>
<text x="1152.5" y="925.5" font-size="12.0" fill="#7a7452" font-weight="700" text-anchor="middle" >南北</text>
<text x="1166.3" y="1022.0" font-size="12.0" fill="#7a7452" font-weight="700" text-anchor="middle" >南南</text>
<text x="488.0" y="998.0" font-size="11.0" fill="#7a7452" font-weight="700" text-anchor="middle" >南</text>
<text x="138.3" y="1393.3" font-size="9.5" fill="#444" font-weight="400" text-anchor="start" textLength="276.7" lengthAdjust="spacingAndGlyphs" >©2007-2016, Town Guidance Support Network. All rights reserved.</text>
<text x="241.5" y="597.8" font-size="14.5" fill="#1277bd" font-weight="700" text-anchor="start" >a</text>
<text x="241.0" y="628.5" font-size="14.5" fill="#1277bd" font-weight="700" text-anchor="start" >e</text>
<text x="1237.5" y="659.5" font-size="14.5" fill="#1277bd" font-weight="700" text-anchor="start" >b</text>
<text x="623.5" y="328.3" font-size="14.5" fill="#1277bd" font-weight="700" text-anchor="start" >c</text>
<text x="917.5" y="958.5" font-size="14.5" fill="#1277bd" font-weight="700" text-anchor="start" >d</text>
<text x="1301.0" y="1079.0" fill="#1a7abf" font-weight="400" style="writing-mode:vertical-rl;text-orientation:mixed" transform="rotate(-3.0 1301.0 1079.0)"><tspan font-size="9.5" textLength="47.0" lengthAdjust="spacingAndGlyphs">地上ルート</tspan></text>
<g transform="translate(7.0 234.5) scale(0.976)"><rect width="21" height="21" fill="#2e3134"/><path d="M5.4,4.6 Q5.4,2.1 7.8,2.1 H13.6 Q16,2.1 16,4.6 V13.8 Q16,15.3 14.6,15.3 H6.8 Q5.4,15.3 5.4,13.8 Z" fill="#fff"/><rect x="6.5" y="5.1" width="8.4" height="4.6" rx="0.8" fill="#2e3134"/><rect x="9" y="2.9" width="3.4" height="0.8" fill="#2e3134"/><circle cx="7.6" cy="12.4" r="0.7" fill="#2e3134"/><circle cx="13.8" cy="12.4" r="0.7" fill="#2e3134"/><path d="M7.2,15.6 L5,18.7 M14.2,15.6 L16.4,18.7" stroke="#fff" stroke-width="0.9" fill="none"/></g>
<g transform="translate(7.0 260.8) scale(0.976)"><rect width="21" height="21" fill="#2e3134"/><path d="M3,6.2 H17.6 Q19,6.2 19,7.5 V12.8 H1.8 Z" fill="#fff"/><g fill="#2e3134"><rect x="5.6" y="7.5" width="2.3" height="1.5"/><rect x="8.5" y="7.5" width="2.3" height="1.5"/><rect x="11.4" y="7.5" width="2.3" height="1.5"/><rect x="14.3" y="7.5" width="2.3" height="1.5"/><path d="M3.4,7.5 H4.8 L4.5,10.6 H2.8 Z"/></g><path d="M4.6,12.8 H7.8 L6.2,14.2 Z M13,12.8 H16.2 L14.6,14.2 Z" fill="#fff"/></g>
<g transform="translate(7.0 288.0) scale(0.976)"><rect width="21" height="21" fill="#2e3134"/><path transform="translate(10.4 6.2) rotate(38)" d="M0,-5 Q0.9,-5 0.9,-3.6 V-1.2 L4.8,1.7 V2.9 L0.9,1.5 V3.4 L2.1,4.4 V5.2 L0,4.6 L-2.1,5.2 V4.4 L-0.9,3.4 V1.5 L-4.8,2.9 V1.7 L-0.9,-1.2 V-3.6 Q-0.9,-5 0,-5 Z" fill="#fff"/><path d="M3,12.1 H17.6 Q19,12.1 19,13.4 V18.7 H1.8 Z" fill="#fff"/><g fill="#2e3134"><rect x="5.6" y="13.4" width="2.3" height="1.5"/><rect x="8.5" y="13.4" width="2.3" height="1.5"/><rect x="11.4" y="13.4" width="2.3" height="1.5"/><rect x="14.3" y="13.4" width="2.3" height="1.5"/><path d="M3.4,13.4 H4.8 L4.5,16.5 H2.8 Z"/></g><path d="M4.6,18.7 H7.8 L6.2,20.1 Z M13,18.7 H16.2 L14.6,20.1 Z" fill="#fff"/></g>
<g transform="translate(527.3 531.3) scale(1.319)"><rect width="21" height="21" fill="#2e3134"/><path d="M5.4,4.6 Q5.4,2.1 7.8,2.1 H13.6 Q16,2.1 16,4.6 V13.8 Q16,15.3 14.6,15.3 H6.8 Q5.4,15.3 5.4,13.8 Z" fill="#fff"/><rect x="6.5" y="5.1" width="8.4" height="4.6" rx="0.8" fill="#2e3134"/><rect x="9" y="2.9" width="3.4" height="0.8" fill="#2e3134"/><circle cx="7.6" cy="12.4" r="0.7" fill="#2e3134"/><circle cx="13.8" cy="12.4" r="0.7" fill="#2e3134"/><path d="M7.2,15.6 L5,18.7 M14.2,15.6 L16.4,18.7" stroke="#fff" stroke-width="0.9" fill="none"/></g>
<g transform="translate(1380.3 443.0) scale(0.986)"><rect width="21" height="21" fill="#2e3134"/><path d="M5.4,4.6 Q5.4,2.1 7.8,2.1 H13.6 Q16,2.1 16,4.6 V13.8 Q16,15.3 14.6,15.3 H6.8 Q5.4,15.3 5.4,13.8 Z" fill="#fff"/><rect x="6.5" y="5.1" width="8.4" height="4.6" rx="0.8" fill="#2e3134"/><rect x="9" y="2.9" width="3.4" height="0.8" fill="#2e3134"/><circle cx="7.6" cy="12.4" r="0.7" fill="#2e3134"/><circle cx="13.8" cy="12.4" r="0.7" fill="#2e3134"/><path d="M7.2,15.6 L5,18.7 M14.2,15.6 L16.4,18.7" stroke="#fff" stroke-width="0.9" fill="none"/></g>
<g transform="translate(1374.8 1323.3) scale(1.010)"><rect width="21" height="21" fill="#2e3134"/><path d="M5.4,4.6 Q5.4,2.1 7.8,2.1 H13.6 Q16,2.1 16,4.6 V13.8 Q16,15.3 14.6,15.3 H6.8 Q5.4,15.3 5.4,13.8 Z" fill="#fff"/><rect x="6.5" y="5.1" width="8.4" height="4.6" rx="0.8" fill="#2e3134"/><rect x="9" y="2.9" width="3.4" height="0.8" fill="#2e3134"/><circle cx="7.6" cy="12.4" r="0.7" fill="#2e3134"/><circle cx="13.8" cy="12.4" r="0.7" fill="#2e3134"/><path d="M7.2,15.6 L5,18.7 M14.2,15.6 L16.4,18.7" stroke="#fff" stroke-width="0.9" fill="none"/></g>
<g transform="translate(1374.8 1352.0) scale(1.010)"><rect width="21" height="21" fill="#2e3134"/><path d="M3,6.2 H17.6 Q19,6.2 19,7.5 V12.8 H1.8 Z" fill="#fff"/><g fill="#2e3134"><rect x="5.6" y="7.5" width="2.3" height="1.5"/><rect x="8.5" y="7.5" width="2.3" height="1.5"/><rect x="11.4" y="7.5" width="2.3" height="1.5"/><rect x="14.3" y="7.5" width="2.3" height="1.5"/><path d="M3.4,7.5 H4.8 L4.5,10.6 H2.8 Z"/></g><path d="M4.6,12.8 H7.8 L6.2,14.2 Z M13,12.8 H16.2 L14.6,14.2 Z" fill="#fff"/></g>
<g transform="translate(1026.5 1178.8) scale(1.024)"><rect width="21" height="21" fill="#2e3134"/><path transform="translate(10.4 6.2) rotate(38)" d="M0,-5 Q0.9,-5 0.9,-3.6 V-1.2 L4.8,1.7 V2.9 L0.9,1.5 V3.4 L2.1,4.4 V5.2 L0,4.6 L-2.1,5.2 V4.4 L-0.9,3.4 V1.5 L-4.8,2.9 V1.7 L-0.9,-1.2 V-3.6 Q-0.9,-5 0,-5 Z" fill="#fff"/><path d="M3,12.1 H17.6 Q19,12.1 19,13.4 V18.7 H1.8 Z" fill="#fff"/><g fill="#2e3134"><rect x="5.6" y="13.4" width="2.3" height="1.5"/><rect x="8.5" y="13.4" width="2.3" height="1.5"/><rect x="11.4" y="13.4" width="2.3" height="1.5"/><rect x="14.3" y="13.4" width="2.3" height="1.5"/><path d="M3.4,13.4 H4.8 L4.5,16.5 H2.8 Z"/></g><path d="M4.6,18.7 H7.8 L6.2,20.1 Z M13,18.7 H16.2 L14.6,20.1 Z" fill="#fff"/></g>
<rect x="252.5" y="586.3" width="12.5" height="12.5" fill="#fff" stroke="#999" stroke-width="0.5"/>
<g transform="translate(252.5 586.3)" fill="#111" stroke="none"><circle cx="5.3" cy="7.5" r="3.3" fill="none" stroke="#111" stroke-width="0.95"/><circle cx="4.3" cy="2.3" r="0.95"/><path d="M4.6,3.2 Q8.2,2.6 8.8,6.6 Q9,8 10.8,8.1" fill="none" stroke="#111" stroke-width="0.9"/></g>
<rect x="265.0" y="586.3" width="12.5" height="12.5" fill="#fff" stroke="#999" stroke-width="0.5"/>
<g transform="translate(265.0 586.3)" fill="#111" stroke="none"><path d="M2.6,1.8 H3.7 V8.6 H2.6 Z M3.7,3.6 H9.8 V4.6 H3.7 Z M3.7,6 H9.2 V7.1 H3.7 Z M3.6,8.6 H10 V9.7 H3.6 Z"/><circle cx="3.8" cy="9.6" r="1.9"/><circle cx="9.7" cy="10.2" r="1.1"/></g>
<rect x="277.5" y="586.3" width="12.5" height="12.5" fill="#fff" stroke="#999" stroke-width="0.5"/>
<g transform="translate(277.5 586.3)" fill="#111" stroke="none"><circle cx="6.2" cy="2.6" r="1.55"/><path d="M2.2,11.2 V6.6 Q2.2,4.5 4.5,4.5 H7.9 Q10.2,4.5 10.2,6.6 V11.2 Z"/><path d="M6.3,7.2 H7.5 V8.4 H8.7 V9.6 H7.5 V10.8 H6.3 V9.6 H5.1 V8.4 H6.3 Z" fill="#fff"/></g>
<rect x="252.5" y="598.8" width="12.5" height="12.5" fill="#8f9598"/>
<rect x="265.0" y="598.8" width="12.5" height="12.5" fill="#fff" stroke="#999" stroke-width="0.5"/>
<g transform="translate(265.0 598.8)" fill="#111" stroke="none"><g transform="translate(0 -1.7)"><rect x="1.4" y="9.3" width="9.8" height="1.1"/><circle cx="3" cy="7.4" r="1.15"/><path d="M4.2,8.9 V7 H6.6 L8.6,5.4 L10.4,8.9 Z"/></g></g>
<rect x="277.5" y="598.8" width="12.5" height="12.5" fill="#8f9598"/>
<rect x="252.5" y="617.0" width="12.5" height="12.5" fill="#fff" stroke="#999" stroke-width="0.5"/>
<g transform="translate(252.5 617.0)" fill="#111" stroke="none"><circle cx="5.3" cy="7.5" r="3.3" fill="none" stroke="#111" stroke-width="0.95"/><circle cx="4.3" cy="2.3" r="0.95"/><path d="M4.6,3.2 Q8.2,2.6 8.8,6.6 Q9,8 10.8,8.1" fill="none" stroke="#111" stroke-width="0.9"/></g>
<rect x="265.0" y="617.0" width="12.5" height="12.5" fill="#fff" stroke="#999" stroke-width="0.5"/>
<g transform="translate(265.0 617.0)" fill="#111" stroke="none"><path d="M2.6,1.8 H3.7 V8.6 H2.6 Z M3.7,3.6 H9.8 V4.6 H3.7 Z M3.7,6 H9.2 V7.1 H3.7 Z M3.6,8.6 H10 V9.7 H3.6 Z"/><circle cx="3.8" cy="9.6" r="1.9"/><circle cx="9.7" cy="10.2" r="1.1"/></g>
<rect x="277.5" y="617.0" width="12.5" height="12.5" fill="#8f9598"/>
<rect x="252.5" y="629.5" width="12.5" height="12.5" fill="#8f9598"/>
<rect x="265.0" y="629.5" width="12.5" height="12.5" fill="#fff" stroke="#999" stroke-width="0.5"/>
<g transform="translate(265.0 629.5)" fill="#111" stroke="none"><g transform="translate(0 -1.7)"><rect x="1.4" y="9.3" width="9.8" height="1.1"/><circle cx="3" cy="7.4" r="1.15"/><path d="M4.2,8.9 V7 H6.6 L8.6,5.4 L10.4,8.9 Z"/></g></g>
<rect x="277.5" y="629.5" width="12.5" height="12.5" fill="#8f9598"/>
<rect x="252.5" y="646.3" width="12.5" height="12.5" fill="#fff" stroke="#999" stroke-width="0.5"/>
<g transform="translate(252.5 646.3)" fill="#111" stroke="none"><circle cx="6.2" cy="2.6" r="1.55"/><path d="M2.2,11.2 V6.6 Q2.2,4.5 4.5,4.5 H7.9 Q10.2,4.5 10.2,6.6 V11.2 Z"/><path d="M6.3,7.2 H7.5 V8.4 H8.7 V9.6 H7.5 V10.8 H6.3 V9.6 H5.1 V8.4 H6.3 Z" fill="#fff"/></g>
<rect x="635.0" y="316.3" width="12.5" height="12.5" fill="#fff" stroke="#999" stroke-width="0.5"/>
<g transform="translate(635.0 316.3)" fill="#111" stroke="none"><circle cx="5.3" cy="7.5" r="3.3" fill="none" stroke="#111" stroke-width="0.95"/><circle cx="4.3" cy="2.3" r="0.95"/><path d="M4.6,3.2 Q8.2,2.6 8.8,6.6 Q9,8 10.8,8.1" fill="none" stroke="#111" stroke-width="0.9"/></g>
<rect x="647.5" y="316.3" width="12.5" height="12.5" fill="#fff" stroke="#999" stroke-width="0.5"/>
<g transform="translate(647.5 316.3)" fill="#111" stroke="none"><path d="M2.6,1.8 H3.7 V8.6 H2.6 Z M3.7,3.6 H9.8 V4.6 H3.7 Z M3.7,6 H9.2 V7.1 H3.7 Z M3.6,8.6 H10 V9.7 H3.6 Z"/><circle cx="3.8" cy="9.6" r="1.9"/><circle cx="9.7" cy="10.2" r="1.1"/></g>
<rect x="660.0" y="316.3" width="12.5" height="12.5" fill="#8f9598"/>
<rect x="635.0" y="328.8" width="12.5" height="12.5" fill="#8f9598"/>
<rect x="647.5" y="328.8" width="12.5" height="12.5" fill="#fff" stroke="#999" stroke-width="0.5"/>
<g transform="translate(647.5 328.8)" fill="#111" stroke="none"><g transform="translate(0 -1.7)"><rect x="1.4" y="9.3" width="9.8" height="1.1"/><circle cx="3" cy="7.4" r="1.15"/><path d="M4.2,8.9 V7 H6.6 L8.6,5.4 L10.4,8.9 Z"/></g></g>
<rect x="660.0" y="328.8" width="12.5" height="12.5" fill="#fff" stroke="#999" stroke-width="0.5"/>
<g transform="translate(660.0 328.8)" fill="#111" stroke="none"><circle cx="6.2" cy="3.2" r="1.3"/><path d="M4.6,5 H7.8 V8.4 H9.2 V10.8 H3.4 V8.4 H4.6 Z"/></g>
<rect x="1249.5" y="647.5" width="12.5" height="12.5" fill="#fff" stroke="#999" stroke-width="0.5"/>
<g transform="translate(1249.5 647.5)" fill="#111" stroke="none"><circle cx="5.3" cy="7.5" r="3.3" fill="none" stroke="#111" stroke-width="0.95"/><circle cx="4.3" cy="2.3" r="0.95"/><path d="M4.6,3.2 Q8.2,2.6 8.8,6.6 Q9,8 10.8,8.1" fill="none" stroke="#111" stroke-width="0.9"/></g>
<rect x="1262.0" y="647.5" width="12.5" height="12.5" fill="#fff" stroke="#999" stroke-width="0.5"/>
<g transform="translate(1262.0 647.5)" fill="#111" stroke="none"><path d="M2.6,1.8 H3.7 V8.6 H2.6 Z M3.7,3.6 H9.8 V4.6 H3.7 Z M3.7,6 H9.2 V7.1 H3.7 Z M3.6,8.6 H10 V9.7 H3.6 Z"/><circle cx="3.8" cy="9.6" r="1.9"/><circle cx="9.7" cy="10.2" r="1.1"/></g>
<rect x="1274.5" y="647.5" width="12.5" height="12.5" fill="#fff" stroke="#999" stroke-width="0.5"/>
<g transform="translate(1274.5 647.5)" fill="#111" stroke="none"><circle cx="6.2" cy="2.6" r="1.55"/><path d="M2.2,11.2 V6.6 Q2.2,4.5 4.5,4.5 H7.9 Q10.2,4.5 10.2,6.6 V11.2 Z"/><path d="M6.3,7.2 H7.5 V8.4 H8.7 V9.6 H7.5 V10.8 H6.3 V9.6 H5.1 V8.4 H6.3 Z" fill="#fff"/></g>
<rect x="1249.5" y="660.0" width="12.5" height="12.5" fill="#fff" stroke="#999" stroke-width="0.5"/>
<g transform="translate(1249.5 660.0)" fill="#111" stroke="none"><g transform="translate(0 -1.7)"><rect x="1.4" y="9.3" width="9.8" height="1.1"/><circle cx="3" cy="7.4" r="1.15"/><path d="M4.2,8.9 V7 H6.6 L8.6,5.4 L10.4,8.9 Z"/></g></g>
<rect x="1262.0" y="660.0" width="12.5" height="12.5" fill="#8f9598"/>
<rect x="1274.5" y="660.0" width="12.5" height="12.5" fill="#8f9598"/>
<rect x="928.5" y="948.0" width="12.5" height="12.5" fill="#fff" stroke="#999" stroke-width="0.5"/>
<g transform="translate(928.5 948.0)" fill="#111" stroke="none"><circle cx="5.3" cy="7.5" r="3.3" fill="none" stroke="#111" stroke-width="0.95"/><circle cx="4.3" cy="2.3" r="0.95"/><path d="M4.6,3.2 Q8.2,2.6 8.8,6.6 Q9,8 10.8,8.1" fill="none" stroke="#111" stroke-width="0.9"/></g>
<rect x="941.0" y="948.0" width="12.5" height="12.5" fill="#fff" stroke="#999" stroke-width="0.5"/>
<g transform="translate(941.0 948.0)" fill="#111" stroke="none"><path d="M2.6,1.8 H3.7 V8.6 H2.6 Z M3.7,3.6 H9.8 V4.6 H3.7 Z M3.7,6 H9.2 V7.1 H3.7 Z M3.6,8.6 H10 V9.7 H3.6 Z"/><circle cx="3.8" cy="9.6" r="1.9"/><circle cx="9.7" cy="10.2" r="1.1"/></g>
<rect x="953.5" y="948.0" width="12.5" height="12.5" fill="#fff" stroke="#999" stroke-width="0.5"/>
<g transform="translate(953.5 948.0)" fill="#111" stroke="none"><circle cx="6.2" cy="2.6" r="1.55"/><path d="M2.2,11.2 V6.6 Q2.2,4.5 4.5,4.5 H7.9 Q10.2,4.5 10.2,6.6 V11.2 Z"/><path d="M6.3,7.2 H7.5 V8.4 H8.7 V9.6 H7.5 V10.8 H6.3 V9.6 H5.1 V8.4 H6.3 Z" fill="#fff"/></g>
<rect x="928.5" y="960.5" width="12.5" height="12.5" fill="#fff" stroke="#999" stroke-width="0.5"/>
<g transform="translate(928.5 960.5)" fill="#111" stroke="none"><g transform="translate(0 -1.7)"><rect x="1.4" y="9.3" width="9.8" height="1.1"/><circle cx="3" cy="7.4" r="1.15"/><path d="M4.2,8.9 V7 H6.6 L8.6,5.4 L10.4,8.9 Z"/></g></g>
<rect x="941.0" y="960.5" width="12.5" height="12.5" fill="#8f9598"/>
<rect x="953.5" y="960.5" width="12.5" height="12.5" fill="#8f9598"/>
<line x1="290.0" y1="586.3" x2="390.0" y2="548.0" stroke="#000" stroke-width="0.9"/>
<line x1="290.0" y1="617.0" x2="398.0" y2="569.5" stroke="#000" stroke-width="0.9"/>
<line x1="635.0" y1="341.3" x2="617.0" y2="468.0" stroke="#000" stroke-width="0.9"/>
<line x1="1249.5" y1="647.5" x2="1153.5" y2="578.8" stroke="#000" stroke-width="0.9"/>
<line x1="966.0" y1="972.0" x2="1111.0" y2="972.0" stroke="#000" stroke-width="0.9"/>
<g transform="translate(1146.0 566.3) rotate(0.0)"><rect x="-7.5" y="-12.5" width="15.0" height="25.0" fill="#fff" stroke="#999" stroke-width="0.5"/><g transform="translate(-3.3 -5.0) scale(1.00)" fill="#e4007f"><circle cx="0" cy="-4.2" r="1.2"/><path d="M-1.2,-2.6 H1.2 L2.6,2.2 H1 V5 H-1 V2.2 H-2.6 Z"/></g><g transform="translate(3.3 -5.0) scale(1.00)" fill="#0a74bd"><circle cx="0" cy="-4.2" r="1.2"/><path d="M-1.8,-2.6 H1.8 V1.4 H1 V5 H-1 V1.4 H-1.8 Z"/></g><g transform="translate(0.0 6.5) scale(1.00)" fill="#0a74bd"><circle cx="-0.8" cy="-3.6" r="1"/><path d="M-1.4,-2.4 H-0.2 V0 H2.4 L3.6,3.2 L2.6,3.6 L1.6,1 H-1.4 Z"/><path d="M-2.2,-0.8 A3,3 0 1 0 1.8,3" fill="none" stroke="#0a74bd" stroke-width="0.8"/></g></g>
<g transform="translate(1118.0 959.7) rotate(0.0)"><rect x="-7.5" y="-14.5" width="15.0" height="29.0" fill="#fff" stroke="#999" stroke-width="0.5"/><g transform="translate(-3.3 -7.0) scale(1.00)" fill="#e4007f"><circle cx="0" cy="-4.2" r="1.2"/><path d="M-1.2,-2.6 H1.2 L2.6,2.2 H1 V5 H-1 V2.2 H-2.6 Z"/></g><g transform="translate(3.3 -7.0) scale(1.00)" fill="#0a74bd"><circle cx="0" cy="-4.2" r="1.2"/><path d="M-1.8,-2.6 H1.8 V1.4 H1 V5 H-1 V1.4 H-1.8 Z"/></g><g transform="translate(0.0 7.0) scale(1.00)" fill="#0a74bd"><circle cx="-0.8" cy="-3.6" r="1"/><path d="M-1.4,-2.4 H-0.2 V0 H2.4 L3.6,3.2 L2.6,3.6 L1.6,1 H-1.4 Z"/><path d="M-2.2,-0.8 A3,3 0 1 0 1.8,3" fill="none" stroke="#0a74bd" stroke-width="0.8"/></g></g>
<g transform="translate(394.5 541.5) rotate(-17.0)"><rect x="-6.0" y="-7.0" width="12.0" height="14.0" fill="#fff" stroke="#999" stroke-width="0.5"/><g transform="translate(-2.2 -1.0) scale(0.90)" fill="#0a74bd"><circle cx="0" cy="-4.2" r="1.2"/><path d="M-1.8,-2.6 H1.8 V1.4 H1 V5 H-1 V1.4 H-1.8 Z"/></g><g transform="translate(2.6 1.5) scale(0.90)" fill="#0a74bd"><circle cx="-0.8" cy="-3.6" r="1"/><path d="M-1.4,-2.4 H-0.2 V0 H2.4 L3.6,3.2 L2.6,3.6 L1.6,1 H-1.4 Z"/><path d="M-2.2,-0.8 A3,3 0 1 0 1.8,3" fill="none" stroke="#0a74bd" stroke-width="0.8"/></g></g>
<g transform="translate(402.5 563.0) rotate(-17.0)"><rect x="-6.0" y="-7.0" width="12.0" height="14.0" fill="#fff" stroke="#999" stroke-width="0.5"/><g transform="translate(-2.2 -1.0) scale(0.90)" fill="#e4007f"><circle cx="0" cy="-4.2" r="1.2"/><path d="M-1.2,-2.6 H1.2 L2.6,2.2 H1 V5 H-1 V2.2 H-2.6 Z"/></g><g transform="translate(2.6 1.5) scale(0.90)" fill="#0a74bd"><circle cx="-0.8" cy="-3.6" r="1"/><path d="M-1.4,-2.4 H-0.2 V0 H2.4 L3.6,3.2 L2.6,3.6 L1.6,1 H-1.4 Z"/><path d="M-2.2,-0.8 A3,3 0 1 0 1.8,3" fill="none" stroke="#0a74bd" stroke-width="0.8"/></g></g>
<g transform="translate(617.5 475.5) rotate(-30.0)"><rect x="-7.5" y="-12.5" width="15.0" height="25.0" fill="#fff" stroke="#999" stroke-width="0.5"/><g transform="translate(-3.3 -5.0) scale(1.00)" fill="#e4007f"><circle cx="0" cy="-4.2" r="1.2"/><path d="M-1.2,-2.6 H1.2 L2.6,2.2 H1 V5 H-1 V2.2 H-2.6 Z"/></g><g transform="translate(3.3 -5.0) scale(1.00)" fill="#0a74bd"><circle cx="0" cy="-4.2" r="1.2"/><path d="M-1.8,-2.6 H1.8 V1.4 H1 V5 H-1 V1.4 H-1.8 Z"/></g><g transform="translate(1.0 6.5) scale(1.00)" fill="#0a74bd"><circle cx="-0.8" cy="-3.6" r="1"/><path d="M-1.4,-2.4 H-0.2 V0 H2.4 L3.6,3.2 L2.6,3.6 L1.6,1 H-1.4 Z"/><path d="M-2.2,-0.8 A3,3 0 1 0 1.8,3" fill="none" stroke="#0a74bd" stroke-width="0.8"/></g></g>
<circle cx="1449.7" cy="1015.4" r="8.5" fill="#333"/>
<text x="1449.7" y="1020.3" font-size="14.0" fill="#fff" font-weight="700" text-anchor="middle" >?</text>
<circle cx="1447" cy="1296.3" r="10.5" fill="#e60012"/>
<text x="1447.0" y="1302.5" font-size="18.0" fill="#fff" font-weight="700" text-anchor="middle" >?</text>
<rect x="1283.5" y="1055" width="16.8" height="17" fill="#0a74bd"/><g transform="translate(1291.5 1064.0) scale(1.50)" fill="#fff"><circle cx="-0.8" cy="-3.6" r="1"/><path d="M-1.4,-2.4 H-0.2 V0 H2.4 L3.6,3.2 L2.6,3.6 L1.6,1 H-1.4 Z"/><path d="M-2.2,-0.8 A3,3 0 1 0 1.8,3" fill="none" stroke="#fff" stroke-width="0.8"/></g>
<g transform="translate(1353.5 441.5) rotate(0.0) scale(1.00)" fill="none" stroke="#333" stroke-width="2.2" stroke-linecap="butt"><path d="M-11,-3 H5 M-11,3 H5"/><path d="M2,-9 L11,0 L2,9" stroke-width="2.6"/></g>
<g transform="translate(138.0 311.5) rotate(192.0) scale(0.90)" fill="none" stroke="#333" stroke-width="2.2" stroke-linecap="butt"><path d="M-11,-3 H5 M-11,3 H5"/><path d="M2,-9 L11,0 L2,9" stroke-width="2.6"/></g>
<g transform="translate(1172.5 919.5) rotate(180.0) scale(0.85)" fill="none" stroke="#8a8460" stroke-width="2.2" stroke-linecap="butt"><path d="M-11,-3 H5 M-11,3 H5"/><path d="M2,-9 L11,0 L2,9" stroke-width="2.6"/></g>
<g transform="translate(1182.5 1032.0) rotate(35.0) scale(0.85)" fill="none" stroke="#8a8460" stroke-width="2.2" stroke-linecap="butt"><path d="M-11,-3 H5 M-11,3 H5"/><path d="M2,-9 L11,0 L2,9" stroke-width="2.6"/></g>
<g transform="translate(1064.0 1181.0) rotate(100.0) scale(0.90)" fill="none" stroke="#333" stroke-width="2.6"><path d="M-8,-6 L0,8 L8,-6"/></g>
<g transform="translate(1178.0 1301.0) rotate(-18.0) scale(0.90)" fill="none" stroke="#333" stroke-width="2.6"><path d="M-8,-6 L0,8 L8,-6"/></g>
<path d="M1294,946.3 L1296.5,970 L1315.3,990 L1314,1000 L1291.5,1037.5 L1291.5,1075 L1296.5,1150 L1301.5,1187.5 L1364,1178.8 L1381.5,1300" fill="none" stroke="#0a74bd" stroke-width="2.6" stroke-dasharray="0.1 5" stroke-linecap="round"/>
<g transform="translate(1383 1309) rotate(8)" fill="none" stroke="#333" stroke-width="2"><path d="M-7,-9 L0,3 L7,-9"/><path d="M-7,-3 L0,9 L7,-3"/></g>
<line x1="1213.3" y1="1138.1" x2="1236.2" y2="1136.9" stroke="#222" stroke-width="0.8"/>
<line x1="1216.5" y1="1143.7" x2="1239.4" y2="1142.0" stroke="#222" stroke-width="0.8"/>
<line x1="1219.6" y1="1149.3" x2="1242.5" y2="1147.1" stroke="#222" stroke-width="0.8"/>
<line x1="1222.8" y1="1154.8" x2="1245.7" y2="1152.2" stroke="#222" stroke-width="0.8"/>
<line x1="1226.0" y1="1160.4" x2="1248.9" y2="1157.3" stroke="#222" stroke-width="0.8"/>
<line x1="1229.2" y1="1166.0" x2="1252.1" y2="1162.4" stroke="#222" stroke-width="0.8"/>
<line x1="1278.8" y1="1155.6" x2="1315.1" y2="1154.3" stroke="#c4c7cc" stroke-width="1.6"/>
<line x1="1279.4" y1="1159.9" x2="1315.7" y2="1157.8" stroke="#c4c7cc" stroke-width="1.6"/>
<line x1="1280.1" y1="1164.2" x2="1316.3" y2="1161.3" stroke="#c4c7cc" stroke-width="1.6"/>
<line x1="1280.7" y1="1168.5" x2="1317.0" y2="1164.8" stroke="#c4c7cc" stroke-width="1.6"/>
<line x1="1281.3" y1="1172.8" x2="1317.6" y2="1168.3" stroke="#c4c7cc" stroke-width="1.6"/>
<line x1="1282.0" y1="1177.1" x2="1318.2" y2="1171.8" stroke="#c4c7cc" stroke-width="1.6"/>
<line x1="1290.9" y1="997.3" x2="1319.7" y2="1014.4" stroke="#e8e6a0" stroke-width="1.4"/>
<line x1="1289.0" y1="1000.9" x2="1318.2" y2="1018.1" stroke="#e8e6a0" stroke-width="1.4"/>
<line x1="1287.1" y1="1004.5" x2="1316.6" y2="1021.7" stroke="#e8e6a0" stroke-width="1.4"/>
<line x1="1285.2" y1="1008.1" x2="1315.1" y2="1025.3" stroke="#e8e6a0" stroke-width="1.4"/>
<line x1="1283.2" y1="1011.8" x2="1313.6" y2="1029.0" stroke="#e8e6a0" stroke-width="1.4"/>
<line x1="1280.5" y1="1015.8" x2="1311.4" y2="1032.8" stroke="#c4c7cc" stroke-width="1.4"/>
<line x1="1279.0" y1="1018.4" x2="1310.4" y2="1035.1" stroke="#c4c7cc" stroke-width="1.4"/>
<line x1="1277.4" y1="1020.9" x2="1309.5" y2="1037.3" stroke="#c4c7cc" stroke-width="1.4"/>
<g transform="translate(326.0 424.0) rotate(-18.0)" fill="#7a7452"><rect x="-5.5" y="-4.5" width="2" height="9"/><rect x="-1" y="-4.5" width="2" height="9"/><rect x="3.5" y="-4.5" width="2" height="9"/></g>
<g transform="translate(554.0 463.0) rotate(60.0)" fill="#7a7452"><rect x="-5.5" y="-4.5" width="2" height="9"/><rect x="-1" y="-4.5" width="2" height="9"/><rect x="3.5" y="-4.5" width="2" height="9"/></g>
<g transform="translate(901.5 497.0) rotate(0.0)" fill="#7a7452"><rect x="-5.5" y="-4.5" width="2" height="9"/><rect x="-1" y="-4.5" width="2" height="9"/><rect x="3.5" y="-4.5" width="2" height="9"/></g>
<g transform="translate(1117.1 472.9) rotate(-28.0)" fill="#7a7452"><rect x="-5.5" y="-4.5" width="2" height="9"/><rect x="-1" y="-4.5" width="2" height="9"/><rect x="3.5" y="-4.5" width="2" height="9"/></g>
<g transform="translate(1150.0 464.6) rotate(0.0)" fill="#7a7452"><rect x="-5.5" y="-4.5" width="2" height="9"/><rect x="-1" y="-4.5" width="2" height="9"/><rect x="3.5" y="-4.5" width="2" height="9"/></g>
<g transform="translate(1125.5 743.5) rotate(0.0)" fill="#7a7452"><rect x="-5.5" y="-4.5" width="2" height="9"/><rect x="-1" y="-4.5" width="2" height="9"/><rect x="3.5" y="-4.5" width="2" height="9"/></g>
<g transform="translate(1156.5 736.0) rotate(-20.0)" fill="#7a7452"><rect x="-5.5" y="-4.5" width="2" height="9"/><rect x="-1" y="-4.5" width="2" height="9"/><rect x="3.5" y="-4.5" width="2" height="9"/></g>
<g transform="translate(484.0 1007.0) rotate(-18.0)" fill="#7a7452"><rect x="-5.5" y="-4.5" width="2" height="9"/><rect x="-1" y="-4.5" width="2" height="9"/><rect x="3.5" y="-4.5" width="2" height="9"/></g>
<g transform="translate(568.0 523.0) rotate(90.0)" fill="#3b66b5"><rect x="-5.5" y="-4.5" width="2" height="9"/><rect x="-1" y="-4.5" width="2" height="9"/><rect x="3.5" y="-4.5" width="2" height="9"/></g>
<g transform="translate(882.5 522.0) rotate(90.0)" fill="#3b66b5"><rect x="-5.5" y="-4.5" width="2" height="9"/><rect x="-1" y="-4.5" width="2" height="9"/><rect x="3.5" y="-4.5" width="2" height="9"/></g>
<line x1="143.8" y1="301.3" x2="251.3" y2="322.5" stroke="#111" stroke-width="0.9"/>
<line x1="146.7" y1="328.3" x2="245.0" y2="349.3" stroke="#111" stroke-width="0.9"/>
<line x1="462.0" y1="356.3" x2="506.8" y2="372.5" stroke="#111" stroke-width="0.9"/>
<line x1="534.5" y1="378.8" x2="582.7" y2="380.7" stroke="#111" stroke-width="0.9"/>
<line x1="457.5" y1="385.6" x2="481.0" y2="394.3" stroke="#111" stroke-width="0.9"/>
<line x1="1043.0" y1="292.0" x2="1043.4" y2="312.0" stroke="#111" stroke-width="0.9"/>
<line x1="1043.4" y1="312.0" x2="1072.3" y2="311.0" stroke="#111" stroke-width="0.9"/>
<line x1="984.4" y1="366.4" x2="1042.6" y2="358.8" stroke="#111" stroke-width="0.9"/>
<line x1="984.4" y1="396.4" x2="1042.6" y2="388.7" stroke="#111" stroke-width="0.9"/>
<line x1="1062.0" y1="297.5" x2="1080.0" y2="283" stroke="#111" stroke-width="0.8"/>
<line x1="1066.5" y1="297.5" x2="1084.5" y2="283" stroke="#111" stroke-width="0.8"/>
<line x1="1071.0" y1="297.5" x2="1089.0" y2="283" stroke="#111" stroke-width="0.8"/>
<line x1="1057" y1="297.8" x2="1071" y2="297.8" stroke="#111" stroke-width="0.8"/>
<g transform="translate(711.0 548.0) rotate(22.0) scale(0.850)" fill="#fff" stroke="none"><path d="M-1.6,-4.4 V-10.8 L-4.4,-7.2 M1.5,-11 V-4.8 L4.2,-8.2" fill="none" stroke="#fff" stroke-width="1.25" stroke-linejoin="miter"/><path d="M-7.4,-3.4 H7.4 V10.2 H-7.4 Z M-6.2,-2.2 V9 H6.2 V-2.2 Z" fill-rule="evenodd"/><circle cx="-2.6" cy="0.4" r="1.15"/><path d="M-4.3,1.9 H-0.9 V6 H-1.5 V9.4 H-3.7 V6 H-4.3 Z"/><circle cx="2.6" cy="0.4" r="1.15"/><path d="M0.9,1.9 H4.3 V6 H3.7 V9.4 H1.5 V6 H0.9 Z"/></g>
<g transform="translate(1047.6 889.7) rotate(100.0) scale(0.850)" fill="#fff" stroke="none"><path d="M-1.6,-4.4 V-10.8 L-4.4,-7.2 M1.5,-11 V-4.8 L4.2,-8.2" fill="none" stroke="#fff" stroke-width="1.25" stroke-linejoin="miter"/><path d="M-7.4,-3.4 H7.4 V10.2 H-7.4 Z M-6.2,-2.2 V9 H6.2 V-2.2 Z" fill-rule="evenodd"/><circle cx="-2.6" cy="0.4" r="1.15"/><path d="M-4.3,1.9 H-0.9 V6 H-1.5 V9.4 H-3.7 V6 H-4.3 Z"/><circle cx="2.6" cy="0.4" r="1.15"/><path d="M0.9,1.9 H4.3 V6 H3.7 V9.4 H1.5 V6 H0.9 Z"/></g>
<g transform="translate(1078.5 959.0) rotate(100.0) scale(0.850)" fill="#fff" stroke="none"><path d="M-1.6,-4.4 V-10.8 L-4.4,-7.2 M1.5,-11 V-4.8 L4.2,-8.2" fill="none" stroke="#fff" stroke-width="1.25" stroke-linejoin="miter"/><path d="M-7.4,-3.4 H7.4 V10.2 H-7.4 Z M-6.2,-2.2 V9 H6.2 V-2.2 Z" fill-rule="evenodd"/><circle cx="-2.6" cy="0.4" r="1.15"/><path d="M-4.3,1.9 H-0.9 V6 H-1.5 V9.4 H-3.7 V6 H-4.3 Z"/><circle cx="2.6" cy="0.4" r="1.15"/><path d="M0.9,1.9 H4.3 V6 H3.7 V9.4 H1.5 V6 H0.9 Z"/></g>
<g transform="translate(1097.4 653.6) rotate(70.0) scale(0.850)" fill="#fff" stroke="none"><path d="M-1.6,-4.4 V-10.8 L-4.4,-7.2 M1.5,-11 V-4.8 L4.2,-8.2" fill="none" stroke="#fff" stroke-width="1.25" stroke-linejoin="miter"/><path d="M-7.4,-3.4 H7.4 V10.2 H-7.4 Z M-6.2,-2.2 V9 H6.2 V-2.2 Z" fill-rule="evenodd"/><circle cx="-2.6" cy="0.4" r="1.15"/><path d="M-4.3,1.9 H-0.9 V6 H-1.5 V9.4 H-3.7 V6 H-4.3 Z"/><circle cx="2.6" cy="0.4" r="1.15"/><path d="M0.9,1.9 H4.3 V6 H3.7 V9.4 H1.5 V6 H0.9 Z"/></g>
<g transform="translate(1048.6 711.1) rotate(70.0) scale(0.850)" fill="#fff" stroke="none"><path d="M-1.6,-4.4 V-10.8 L-4.4,-7.2 M1.5,-11 V-4.8 L4.2,-8.2" fill="none" stroke="#fff" stroke-width="1.25" stroke-linejoin="miter"/><path d="M-7.4,-3.4 H7.4 V10.2 H-7.4 Z M-6.2,-2.2 V9 H6.2 V-2.2 Z" fill-rule="evenodd"/><circle cx="-2.6" cy="0.4" r="1.15"/><path d="M-4.3,1.9 H-0.9 V6 H-1.5 V9.4 H-3.7 V6 H-4.3 Z"/><circle cx="2.6" cy="0.4" r="1.15"/><path d="M0.9,1.9 H4.3 V6 H3.7 V9.4 H1.5 V6 H0.9 Z"/></g>
<g transform="translate(1060.0 530.6) rotate(48.0) scale(0.750)" fill="#fff" stroke="none"><path d="M-1.6,-4.4 V-10.8 L-4.4,-7.2 M1.5,-11 V-4.8 L4.2,-8.2" fill="none" stroke="#fff" stroke-width="1.25" stroke-linejoin="miter"/><path d="M-7.4,-3.4 H7.4 V10.2 H-7.4 Z M-6.2,-2.2 V9 H6.2 V-2.2 Z" fill-rule="evenodd"/><circle cx="-2.6" cy="0.4" r="1.15"/><path d="M-4.3,1.9 H-0.9 V6 H-1.5 V9.4 H-3.7 V6 H-4.3 Z"/><circle cx="2.6" cy="0.4" r="1.15"/><path d="M0.9,1.9 H4.3 V6 H3.7 V9.4 H1.5 V6 H0.9 Z"/></g>
<g transform="translate(910.0 554.3) rotate(-15.0) scale(0.800)" fill="#fff" stroke="none"><path d="M-1.6,-4.4 V-10.8 L-4.4,-7.2 M1.5,-11 V-4.8 L4.2,-8.2" fill="none" stroke="#fff" stroke-width="1.25" stroke-linejoin="miter"/><path d="M-7.4,-3.4 H7.4 V10.2 H-7.4 Z M-6.2,-2.2 V9 H6.2 V-2.2 Z" fill-rule="evenodd"/><circle cx="-2.6" cy="0.4" r="1.15"/><path d="M-4.3,1.9 H-0.9 V6 H-1.5 V9.4 H-3.7 V6 H-4.3 Z"/><circle cx="2.6" cy="0.4" r="1.15"/><path d="M0.9,1.9 H4.3 V6 H3.7 V9.4 H1.5 V6 H0.9 Z"/></g>
<g transform="translate(418.5 487.5) rotate(-52.0) scale(0.750)" fill="#fff" stroke="none"><path d="M-1.6,-4.4 V-10.8 L-4.4,-7.2 M1.5,-11 V-4.8 L4.2,-8.2" fill="none" stroke="#fff" stroke-width="1.25" stroke-linejoin="miter"/><path d="M-7.4,-3.4 H7.4 V10.2 H-7.4 Z M-6.2,-2.2 V9 H6.2 V-2.2 Z" fill-rule="evenodd"/><circle cx="-2.6" cy="0.4" r="1.15"/><path d="M-4.3,1.9 H-0.9 V6 H-1.5 V9.4 H-3.7 V6 H-4.3 Z"/><circle cx="2.6" cy="0.4" r="1.15"/><path d="M0.9,1.9 H4.3 V6 H3.7 V9.4 H1.5 V6 H0.9 Z"/></g>
<g transform="translate(455.0 645.0) rotate(-65.0) scale(0.750)" fill="#fff" stroke="none"><path d="M-1.6,-4.4 V-10.8 L-4.4,-7.2 M1.5,-11 V-4.8 L4.2,-8.2" fill="none" stroke="#fff" stroke-width="1.25" stroke-linejoin="miter"/><path d="M-7.4,-3.4 H7.4 V10.2 H-7.4 Z M-6.2,-2.2 V9 H6.2 V-2.2 Z" fill-rule="evenodd"/><circle cx="-2.6" cy="0.4" r="1.15"/><path d="M-4.3,1.9 H-0.9 V6 H-1.5 V9.4 H-3.7 V6 H-4.3 Z"/><circle cx="2.6" cy="0.4" r="1.15"/><path d="M0.9,1.9 H4.3 V6 H3.7 V9.4 H1.5 V6 H0.9 Z"/></g>
<rect fill="#b3a96f" x="925.0" y="471.4" width="25.0" height="25.0" stroke="#8f8757" stroke-width="0.5"/>
<g transform="translate(937.5 484.2) rotate(0.0) scale(0.950)" fill="#000" stroke="none"><path d="M-1.6,-4.4 V-10.8 L-4.4,-7.2 M1.5,-11 V-4.8 L4.2,-8.2" fill="none" stroke="#000" stroke-width="1.25" stroke-linejoin="miter"/><path d="M-7.4,-3.4 H7.4 V10.2 H-7.4 Z M-6.2,-2.2 V9 H6.2 V-2.2 Z" fill-rule="evenodd"/><circle cx="-2.6" cy="0.4" r="1.15"/><path d="M-4.3,1.9 H-0.9 V6 H-1.5 V9.4 H-3.7 V6 H-4.3 Z"/><circle cx="2.6" cy="0.4" r="1.15"/><path d="M0.9,1.9 H4.3 V6 H3.7 V9.4 H1.5 V6 H0.9 Z"/></g>
<path d="M971.5,451.4 L1044,450.6" stroke="#f2f095" stroke-width="2.2" fill="none"/>
</svg>
</body></html>
